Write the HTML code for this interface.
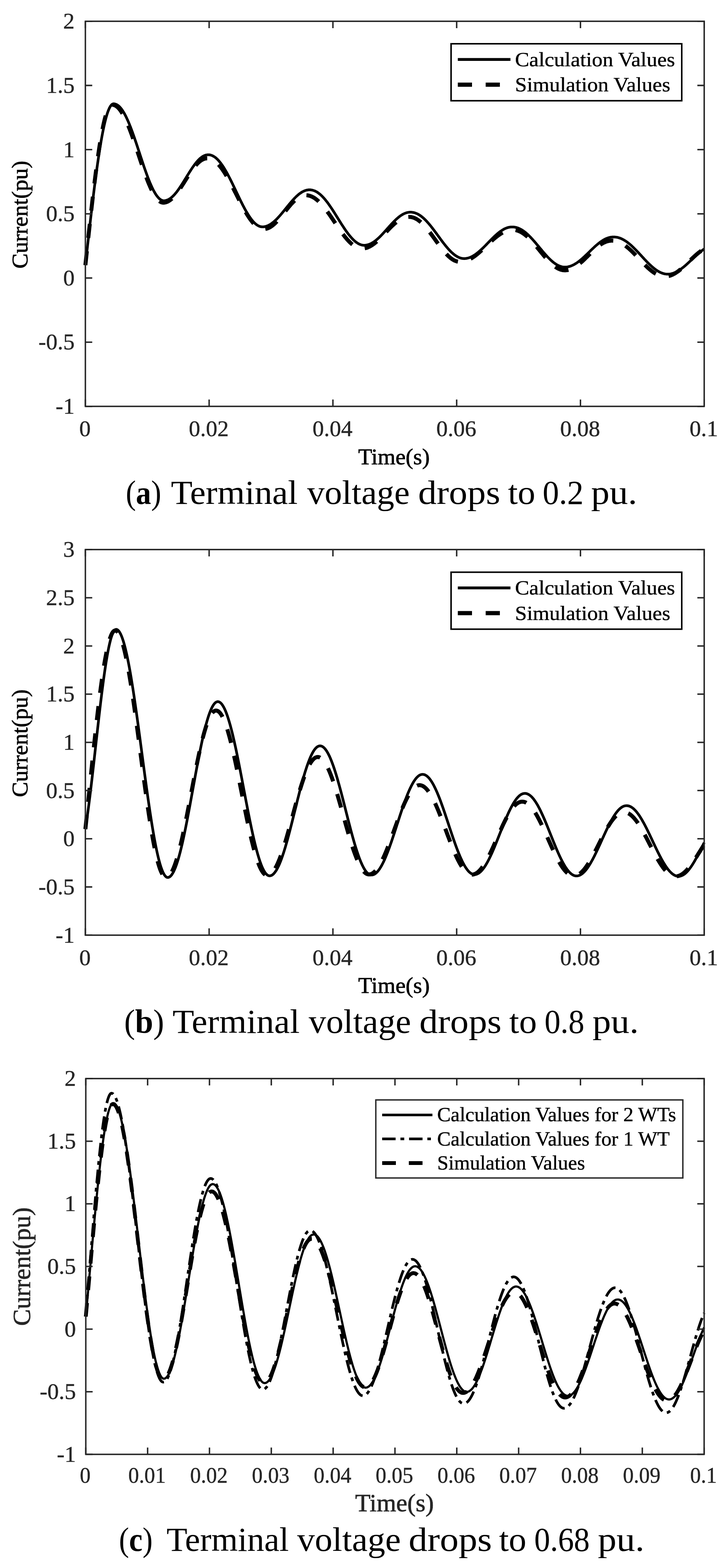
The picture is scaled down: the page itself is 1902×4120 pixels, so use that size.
<!DOCTYPE html>
<html><head><meta charset="utf-8"><title>Figure</title><style>
html,body{margin:0;padding:0;background:#fff}
svg{display:block}
text{font-family:"Liberation Serif","Times New Roman",serif}
.tk{font-size:60px;fill:#262626;stroke:#262626;stroke-width:0.6px}
.lb{font-size:60px;fill:#000;stroke:#000;stroke-width:1px}
.lc{font-size:66px;fill:#262626;stroke:#262626}
.lg{font-size:56px;fill:#000;stroke:#000;stroke-width:0.6px}
.lgc{font-size:53.3px}
.cap{font-size:88px;fill:#000}
</style></head>
<body><svg width="1902" height="4120" viewBox="0 0 1902 4120">
<g fill="none" stroke="#000" stroke-linejoin="round">
<path d="M224.3 696.7L225.8 683.2L227.3 669.7L228.8 656.3L230.3 642.9L231.8 629.5L233.3 616.2L234.8 603.0L236.3 589.9L237.8 576.9L239.3 564.0L240.8 551.2L242.3 538.6L243.8 526.2L245.3 513.9L246.8 501.8L248.3 489.9L249.8 478.2L251.3 466.8L252.8 455.5L254.3 444.5L255.8 433.8L257.3 423.4L258.8 413.2L260.3 403.3L261.8 393.7L263.3 384.4L264.8 375.4L266.3 366.8L267.8 358.5L269.3 350.5L270.8 342.9L272.3 335.6L273.8 328.7L275.3 322.2L276.8 316.1L278.3 310.3L279.8 305.0L281.3 300.0L282.8 295.4L284.3 291.3L285.8 287.6L287.3 284.2L288.8 281.3L290.3 278.8L291.8 276.8L293.3 275.1L294.8 273.9L296.3 273.1L297.8 272.8L299.3 272.8L300.8 273.0L302.3 273.2L303.8 273.7L305.3 274.3L306.8 275.0L308.3 275.9L309.8 276.9L311.3 278.0L312.8 279.4L314.3 280.8L315.8 282.4L317.3 284.2L318.8 286.1L320.3 288.1L321.8 290.3L323.3 292.6L324.8 295.0L326.3 297.6L327.8 300.3L329.3 303.2L330.8 306.1L332.3 309.2L333.8 312.4L335.3 315.7L336.8 319.1L338.3 322.6L339.8 326.3L341.3 330.0L342.8 333.8L344.3 337.7L345.8 341.7L347.3 345.8L348.8 349.9L350.3 354.1L351.8 358.4L353.3 362.7L354.8 367.1L356.3 371.5L357.8 375.9L359.3 380.4L360.8 384.9L362.3 389.5L363.8 394.0L365.3 398.6L366.8 403.2L368.3 407.8L369.8 412.3L371.3 416.9L372.8 421.4L374.3 425.9L375.8 430.4L377.3 434.9L378.8 439.3L380.3 443.6L381.8 447.9L383.3 452.2L384.8 456.3L386.3 460.4L387.8 464.5L389.3 468.4L390.8 472.2L392.3 476.0L393.8 479.7L395.3 483.2L396.8 486.7L398.3 490.0L399.8 493.2L401.3 496.3L402.8 499.3L404.3 502.1L405.8 504.8L407.3 507.4L408.8 509.8L410.3 512.1L411.8 514.3L413.3 516.2L414.8 518.1L416.3 519.7L417.8 521.3L419.3 522.6L420.8 523.8L422.3 524.8L423.8 525.7L425.3 526.4L426.8 526.9L428.3 527.2L429.8 527.4L431.3 527.4L432.8 527.3L434.3 527.1L435.8 526.8L437.3 526.4L438.8 525.9L440.3 525.4L441.8 524.7L443.3 523.9L444.8 523.0L446.3 522.1L447.8 521.0L449.3 519.9L450.8 518.6L452.3 517.3L453.8 515.9L455.3 514.5L456.8 512.9L458.3 511.3L459.8 509.6L461.3 507.8L462.8 506.0L464.3 504.1L465.8 502.1L467.3 500.1L468.8 498.0L470.3 495.9L471.8 493.7L473.3 491.5L474.8 489.2L476.3 486.9L477.8 484.6L479.3 482.3L480.8 479.9L482.3 477.5L483.8 475.1L485.3 472.6L486.8 470.2L488.3 467.7L489.8 465.3L491.3 462.8L492.8 460.4L494.3 458.0L495.8 455.6L497.3 453.2L498.8 450.8L500.3 448.5L501.8 446.1L503.3 443.9L504.8 441.6L506.3 439.4L507.8 437.3L509.3 435.2L510.8 433.1L512.3 431.1L513.8 429.2L515.3 427.3L516.8 425.5L518.3 423.8L519.8 422.1L521.3 420.5L522.8 419.0L524.3 417.5L525.8 416.2L527.3 414.9L528.8 413.7L530.3 412.6L531.8 411.6L533.3 410.7L534.8 409.8L536.3 409.1L537.8 408.5L539.3 407.9L540.8 407.5L542.3 407.1L543.8 406.9L545.3 406.7L546.8 406.7L548.3 406.7L549.8 406.8L551.3 407.0L552.8 407.3L554.3 407.7L555.8 408.2L557.3 408.8L558.8 409.5L560.3 410.3L561.8 411.1L563.3 412.1L564.8 413.1L566.3 414.3L567.8 415.5L569.3 416.9L570.8 418.3L572.3 419.8L573.8 421.4L575.3 423.1L576.8 424.9L578.3 426.7L579.8 428.6L581.3 430.7L582.8 432.8L584.3 434.9L585.8 437.2L587.3 439.5L588.8 441.9L590.3 444.3L591.8 446.8L593.3 449.4L594.8 452.0L596.3 454.7L597.8 457.5L599.3 460.3L600.8 463.1L602.3 466.0L603.8 468.9L605.3 471.9L606.8 474.9L608.3 477.9L609.8 481.0L611.3 484.1L612.8 487.2L614.3 490.3L615.8 493.4L617.3 496.6L618.8 499.7L620.3 502.9L621.8 506.0L623.3 509.2L624.8 512.3L626.3 515.5L627.8 518.6L629.3 521.7L630.8 524.8L632.3 527.9L633.8 530.9L635.3 533.9L636.8 536.9L638.3 539.8L639.8 542.7L641.3 545.5L642.8 548.3L644.3 551.1L645.8 553.7L647.3 556.4L648.8 558.9L650.3 561.4L651.8 563.9L653.3 566.2L654.8 568.5L656.3 570.7L657.8 572.9L659.3 574.9L660.8 576.9L662.3 578.8L663.8 580.6L665.3 582.3L666.8 583.9L668.3 585.4L669.8 586.9L671.3 588.2L672.8 589.4L674.3 590.6L675.8 591.6L677.3 592.5L678.8 593.3L680.3 594.0L681.8 594.7L683.3 595.2L684.8 595.5L686.3 595.8L687.8 596.0L689.3 596.1L690.8 596.0L692.3 595.9L693.8 595.8L695.3 595.5L696.8 595.2L698.3 594.8L699.8 594.4L701.3 593.9L702.8 593.3L704.3 592.6L705.8 591.9L707.3 591.1L708.8 590.3L710.3 589.4L711.8 588.4L713.3 587.4L714.8 586.3L716.3 585.1L717.8 583.9L719.3 582.7L720.8 581.4L722.3 580.0L723.8 578.6L725.3 577.2L726.8 575.7L728.3 574.2L729.8 572.6L731.3 571.0L732.8 569.3L734.3 567.7L735.8 566.0L737.3 564.2L738.8 562.5L740.3 560.7L741.8 558.9L743.3 557.1L744.8 555.3L746.3 553.4L747.8 551.6L749.3 549.7L750.8 547.9L752.3 546.0L753.8 544.2L755.3 542.3L756.8 540.5L758.3 538.7L759.8 536.8L761.3 535.0L762.8 533.3L764.3 531.5L765.8 529.7L767.3 528.0L768.8 526.3L770.3 524.7L771.8 523.1L773.3 521.5L774.8 519.9L776.3 518.4L777.8 516.9L779.3 515.5L780.8 514.1L782.3 512.8L783.8 511.5L785.3 510.3L786.8 509.1L788.3 508.0L789.8 507.0L791.3 506.0L792.8 505.0L794.3 504.1L795.8 503.3L797.3 502.6L798.8 501.9L800.3 501.3L801.8 500.7L803.3 500.2L804.8 499.8L806.3 499.5L807.8 499.2L809.3 499.0L810.8 498.8L812.3 498.8L813.8 498.8L815.3 498.8L816.8 499.0L818.3 499.2L819.8 499.4L821.3 499.8L822.8 500.2L824.3 500.7L825.8 501.2L827.3 501.8L828.8 502.5L830.3 503.3L831.8 504.1L833.3 505.0L834.8 506.0L836.3 507.1L837.8 508.2L839.3 509.4L840.8 510.6L842.3 511.9L843.8 513.3L845.3 514.7L846.8 516.2L848.3 517.8L849.8 519.4L851.3 521.1L852.8 522.8L854.3 524.6L855.8 526.4L857.3 528.3L858.8 530.2L860.3 532.2L861.8 534.2L863.3 536.3L864.8 538.4L866.3 540.6L867.8 542.7L869.3 544.9L870.8 547.2L872.3 549.4L873.8 551.7L875.3 554.0L876.8 556.4L878.3 558.7L879.8 561.1L881.3 563.5L882.8 565.9L884.3 568.3L885.8 570.7L887.3 573.1L888.8 575.5L890.3 577.9L891.8 580.3L893.3 582.7L894.8 585.1L896.3 587.5L897.8 589.8L899.3 592.1L900.8 594.4L902.3 596.7L903.8 599.0L905.3 601.2L906.8 603.4L908.3 605.6L909.8 607.7L911.3 609.8L912.8 611.9L914.3 613.9L915.8 615.8L917.3 617.7L918.8 619.6L920.3 621.4L921.8 623.1L923.3 624.8L924.8 626.5L926.3 628.0L927.8 629.6L929.3 631.0L930.8 632.4L932.3 633.7L933.8 634.9L935.3 636.1L936.8 637.2L938.3 638.2L939.8 639.2L941.3 640.1L942.8 640.9L944.3 641.6L945.8 642.2L947.3 642.8L948.8 643.3L950.3 643.7L951.8 644.0L953.3 644.2L954.8 644.4L956.3 644.5L957.8 644.4L959.3 644.4L960.8 644.2L962.3 644.0L963.8 643.8L965.3 643.4L966.8 643.0L968.3 642.6L969.8 642.0L971.3 641.4L972.8 640.8L974.3 640.1L975.8 639.3L977.3 638.5L978.8 637.6L980.3 636.7L981.8 635.7L983.3 634.6L984.8 633.6L986.3 632.4L987.8 631.2L989.3 630.0L990.8 628.7L992.3 627.4L993.8 626.0L995.3 624.6L996.8 623.2L998.3 621.7L999.8 620.2L1001.3 618.7L1002.8 617.1L1004.3 615.6L1005.8 613.9L1007.3 612.3L1008.8 610.7L1010.3 609.0L1011.8 607.4L1013.3 605.7L1014.8 604.0L1016.3 602.3L1017.8 600.6L1019.3 599.0L1020.8 597.3L1022.3 595.6L1023.8 593.9L1025.3 592.3L1026.8 590.6L1028.3 589.0L1029.8 587.4L1031.3 585.8L1032.8 584.2L1034.3 582.7L1035.8 581.1L1037.3 579.7L1038.8 578.2L1040.3 576.8L1041.8 575.4L1043.3 574.1L1044.8 572.7L1046.3 571.5L1047.8 570.3L1049.3 569.1L1050.8 568.0L1052.3 566.9L1053.8 565.9L1055.3 564.9L1056.8 564.0L1058.3 563.1L1059.8 562.3L1061.3 561.6L1062.8 560.9L1064.3 560.3L1065.8 559.7L1067.3 559.2L1068.8 558.8L1070.3 558.4L1071.8 558.1L1073.3 557.9L1074.8 557.7L1076.3 557.6L1077.8 557.5L1079.3 557.6L1080.8 557.6L1082.3 557.8L1083.8 557.9L1085.3 558.2L1086.8 558.5L1088.3 558.9L1089.8 559.3L1091.3 559.8L1092.8 560.4L1094.3 561.0L1095.8 561.7L1097.3 562.4L1098.8 563.2L1100.3 564.1L1101.8 565.0L1103.3 566.0L1104.8 567.0L1106.3 568.1L1107.8 569.3L1109.3 570.5L1110.8 571.7L1112.3 573.0L1113.8 574.4L1115.3 575.8L1116.8 577.3L1118.3 578.8L1119.8 580.3L1121.3 581.9L1122.8 583.6L1124.3 585.3L1125.8 587.0L1127.3 588.7L1128.8 590.5L1130.3 592.3L1131.8 594.2L1133.3 596.1L1134.8 598.0L1136.3 599.9L1137.8 601.9L1139.3 603.8L1140.8 605.8L1142.3 607.8L1143.8 609.9L1145.3 611.9L1146.8 613.9L1148.3 616.0L1149.8 618.0L1151.3 620.1L1152.8 622.1L1154.3 624.2L1155.8 626.2L1157.3 628.3L1158.8 630.3L1160.3 632.3L1161.8 634.3L1163.3 636.3L1164.8 638.3L1166.3 640.2L1167.8 642.1L1169.3 644.0L1170.8 645.9L1172.3 647.7L1173.8 649.5L1175.3 651.3L1176.8 653.0L1178.3 654.7L1179.8 656.3L1181.3 657.9L1182.8 659.5L1184.3 661.0L1185.8 662.5L1187.3 663.9L1188.8 665.2L1190.3 666.5L1191.8 667.8L1193.3 669.0L1194.8 670.1L1196.3 671.2L1197.8 672.2L1199.3 673.1L1200.8 674.0L1202.3 674.9L1203.8 675.6L1205.3 676.3L1206.8 676.9L1208.3 677.5L1209.8 678.0L1211.3 678.4L1212.8 678.7L1214.3 679.0L1215.8 679.2L1217.3 679.3L1218.8 679.4L1220.3 679.4L1221.8 679.3L1223.3 679.2L1224.8 679.0L1226.3 678.7L1227.8 678.4L1229.3 678.1L1230.8 677.7L1232.3 677.2L1233.8 676.7L1235.3 676.1L1236.8 675.5L1238.3 674.8L1239.8 674.0L1241.3 673.3L1242.8 672.4L1244.3 671.5L1245.8 670.6L1247.3 669.6L1248.8 668.6L1250.3 667.6L1251.8 666.4L1253.3 665.3L1254.8 664.1L1256.3 662.9L1257.8 661.6L1259.3 660.4L1260.8 659.0L1262.3 657.7L1263.8 656.3L1265.3 654.9L1266.8 653.5L1268.3 652.0L1269.8 650.6L1271.3 649.1L1272.8 647.6L1274.3 646.1L1275.8 644.6L1277.3 643.0L1278.8 641.5L1280.3 639.9L1281.8 638.4L1283.3 636.8L1284.8 635.3L1286.3 633.7L1287.8 632.2L1289.3 630.7L1290.8 629.2L1292.3 627.6L1293.8 626.1L1295.3 624.7L1296.8 623.2L1298.3 621.8L1299.8 620.4L1301.3 619.0L1302.8 617.6L1304.3 616.3L1305.8 614.9L1307.3 613.7L1308.8 612.4L1310.3 611.2L1311.8 610.0L1313.3 608.9L1314.8 607.8L1316.3 606.8L1317.8 605.8L1319.3 604.8L1320.8 603.9L1322.3 603.0L1323.8 602.2L1325.3 601.4L1326.8 600.7L1328.3 600.1L1329.8 599.4L1331.3 598.9L1332.8 598.4L1334.3 597.9L1335.8 597.5L1337.3 597.2L1338.8 596.9L1340.3 596.7L1341.8 596.5L1343.3 596.4L1344.8 596.4L1346.3 596.4L1347.8 596.4L1349.3 596.5L1350.8 596.7L1352.3 596.9L1353.8 597.2L1355.3 597.5L1356.8 597.9L1358.3 598.3L1359.8 598.8L1361.3 599.3L1362.8 599.9L1364.3 600.6L1365.8 601.3L1367.3 602.1L1368.8 602.9L1370.3 603.8L1371.8 604.7L1373.3 605.7L1374.8 606.7L1376.3 607.7L1377.8 608.9L1379.3 610.0L1380.8 611.2L1382.3 612.5L1383.8 613.8L1385.3 615.1L1386.8 616.5L1388.3 617.9L1389.8 619.4L1391.3 620.9L1392.8 622.4L1394.3 624.0L1395.8 625.6L1397.3 627.2L1398.8 628.8L1400.3 630.5L1401.8 632.2L1403.3 633.9L1404.8 635.6L1406.3 637.4L1407.8 639.1L1409.3 640.9L1410.8 642.7L1412.3 644.5L1413.8 646.3L1415.3 648.1L1416.8 649.9L1418.3 651.7L1419.8 653.5L1421.3 655.3L1422.8 657.1L1424.3 658.9L1425.8 660.7L1427.3 662.4L1428.8 664.2L1430.3 665.9L1431.8 667.6L1433.3 669.3L1434.8 671.0L1436.3 672.6L1437.8 674.3L1439.3 675.9L1440.8 677.4L1442.3 678.9L1443.8 680.4L1445.3 681.9L1446.8 683.3L1448.3 684.7L1449.8 686.0L1451.3 687.3L1452.8 688.5L1454.3 689.7L1455.8 690.8L1457.3 691.9L1458.8 693.0L1460.3 694.0L1461.8 694.9L1463.3 695.8L1464.8 696.6L1466.3 697.4L1467.8 698.1L1469.3 698.7L1470.8 699.3L1472.3 699.9L1473.8 700.3L1475.3 700.7L1476.8 701.1L1478.3 701.4L1479.8 701.6L1481.3 701.7L1482.8 701.8L1484.3 701.8L1485.8 701.8L1487.3 701.7L1488.8 701.6L1490.3 701.4L1491.8 701.1L1493.3 700.8L1494.8 700.5L1496.3 700.0L1497.8 699.6L1499.3 699.1L1500.8 698.5L1502.3 697.9L1503.8 697.2L1505.3 696.5L1506.8 695.8L1508.3 695.0L1509.8 694.1L1511.3 693.2L1512.8 692.3L1514.3 691.3L1515.8 690.3L1517.3 689.3L1518.8 688.2L1520.3 687.1L1521.8 685.9L1523.3 684.7L1524.8 683.5L1526.3 682.2L1527.8 681.0L1529.3 679.7L1530.8 678.3L1532.3 677.0L1533.8 675.6L1535.3 674.2L1536.8 672.8L1538.3 671.4L1539.8 670.0L1541.3 668.5L1542.8 667.1L1544.3 665.6L1545.8 664.2L1547.3 662.7L1548.8 661.3L1550.3 659.8L1551.8 658.3L1553.3 656.9L1554.8 655.4L1556.3 654.0L1557.8 652.6L1559.3 651.2L1560.8 649.8L1562.3 648.4L1563.8 647.0L1565.3 645.7L1566.8 644.4L1568.3 643.1L1569.8 641.8L1571.3 640.6L1572.8 639.4L1574.3 638.2L1575.8 637.0L1577.3 635.9L1578.8 634.9L1580.3 633.8L1581.8 632.8L1583.3 631.9L1584.8 630.9L1586.3 630.1L1587.8 629.2L1589.3 628.5L1590.8 627.7L1592.3 627.0L1593.8 626.4L1595.3 625.8L1596.8 625.2L1598.3 624.8L1599.8 624.3L1601.3 623.9L1602.8 623.6L1604.3 623.3L1605.8 623.1L1607.3 622.9L1608.8 622.8L1610.3 622.7L1611.8 622.7L1613.3 622.7L1614.8 622.8L1616.3 622.9L1617.8 623.1L1619.3 623.3L1620.8 623.5L1622.3 623.8L1623.8 624.2L1625.3 624.6L1626.8 625.1L1628.3 625.6L1629.8 626.1L1631.3 626.7L1632.8 627.4L1634.3 628.1L1635.8 628.8L1637.3 629.6L1638.8 630.5L1640.3 631.3L1641.8 632.3L1643.3 633.2L1644.8 634.2L1646.3 635.3L1647.8 636.4L1649.3 637.5L1650.8 638.7L1652.3 639.9L1653.8 641.1L1655.3 642.4L1656.8 643.7L1658.3 645.0L1659.8 646.4L1661.3 647.8L1662.8 649.2L1664.3 650.6L1665.8 652.1L1667.3 653.6L1668.8 655.1L1670.3 656.6L1671.8 658.2L1673.3 659.8L1674.8 661.3L1676.3 662.9L1677.8 664.5L1679.3 666.1L1680.8 667.8L1682.3 669.4L1683.8 671.0L1685.3 672.6L1686.8 674.3L1688.3 675.9L1689.8 677.5L1691.3 679.1L1692.8 680.8L1694.3 682.4L1695.8 683.9L1697.3 685.5L1698.8 687.1L1700.3 688.6L1701.8 690.2L1703.3 691.7L1704.8 693.1L1706.3 694.6L1707.8 696.0L1709.3 697.4L1710.8 698.8L1712.3 700.2L1713.8 701.5L1715.3 702.8L1716.8 704.0L1718.3 705.2L1719.8 706.4L1721.3 707.5L1722.8 708.6L1724.3 709.7L1725.8 710.7L1727.3 711.7L1728.8 712.6L1730.3 713.4L1731.8 714.3L1733.3 715.0L1734.8 715.8L1736.3 716.4L1737.8 717.1L1739.3 717.6L1740.8 718.2L1742.3 718.6L1743.8 719.0L1745.3 719.4L1746.8 719.7L1748.3 719.9L1749.8 720.1L1751.3 720.3L1752.8 720.3L1754.3 720.3L1755.8 720.3L1757.3 720.2L1758.8 720.1L1760.3 719.9L1761.8 719.6L1763.3 719.4L1764.8 719.0L1766.3 718.6L1767.8 718.2L1769.3 717.7L1770.8 717.1L1772.3 716.5L1773.8 715.9L1775.3 715.2L1776.8 714.4L1778.3 713.6L1779.8 712.8L1781.3 711.9L1782.8 711.0L1784.3 710.1L1785.8 709.1L1787.3 708.1L1788.8 707.0L1790.3 705.9L1791.8 704.8L1793.3 703.6L1794.8 702.4L1796.3 701.2L1797.8 699.9L1799.3 698.7L1800.8 697.4L1802.3 696.1L1803.8 694.7L1805.3 693.4L1806.8 692.0L1808.3 690.6L1809.8 689.2L1811.3 687.8L1812.8 686.4L1814.3 685.0L1815.8 683.5L1817.3 682.1L1818.8 680.7L1820.3 679.3L1821.8 677.8L1823.3 676.4L1824.8 675.0L1826.3 673.6L1827.8 672.2L1829.3 670.9L1830.8 669.5L1832.3 668.2L1833.8 666.8L1835.3 665.5L1836.8 664.3L1838.3 663.0L1839.8 661.8L1841.3 660.6L1842.8 659.4L1844.3 658.3L1845.8 657.2L1847.3 656.1L1848.8 655.0L1850.0 654.2" stroke-width="7"/>
<path d="M224.3 696.7L225.8 682.5L227.3 668.3L228.8 654.2L230.3 640.1L231.8 626.0L233.3 612.1L234.8 598.2L236.3 584.4L237.8 570.8L239.3 557.3L240.8 544.0L242.3 530.8L243.8 517.9L245.3 505.1L246.8 492.5L248.3 480.2L249.8 468.2L251.3 456.4L252.8 444.8L254.3 433.6L255.8 422.6L257.3 412.0L258.8 401.7L260.3 391.7L261.8 382.1L263.3 372.8L264.8 363.9L266.3 355.3L267.8 347.2L269.3 339.4L270.8 332.1L272.3 325.2L273.8 318.7L275.3 312.6L276.8 307.0L278.3 301.8L279.8 297.0L281.3 292.7L282.8 288.9L284.3 285.5L285.8 282.6L287.3 280.2L288.8 278.2L290.3 276.8L291.8 275.7L293.3 275.2L294.8 275.1L296.3 275.3L297.8 275.5L299.3 275.9L300.8 276.4L302.3 277.1L303.8 277.9L305.3 278.8L306.8 279.9L308.3 281.1L309.8 282.5L311.3 284.0L312.8 285.7L314.3 287.5L315.8 289.4L317.3 291.5L318.8 293.7L320.3 296.1L321.8 298.5L323.3 301.1L324.8 303.9L326.3 306.7L327.8 309.7L329.3 312.8L330.8 316.0L332.3 319.3L333.8 322.7L335.3 326.2L336.8 329.8L338.3 333.5L339.8 337.3L341.3 341.2L342.8 345.1L344.3 349.2L345.8 353.3L347.3 357.4L348.8 361.7L350.3 365.9L351.8 370.3L353.3 374.7L354.8 379.1L356.3 383.5L357.8 388.0L359.3 392.5L360.8 397.0L362.3 401.5L363.8 406.1L365.3 410.6L366.8 415.1L368.3 419.7L369.8 424.2L371.3 428.6L372.8 433.1L374.3 437.5L375.8 441.9L377.3 446.2L378.8 450.5L380.3 454.7L381.8 458.9L383.3 463.0L384.8 467.0L386.3 471.0L387.8 474.8L389.3 478.6L390.8 482.3L392.3 485.8L393.8 489.3L395.3 492.7L396.8 496.0L398.3 499.1L399.8 502.1L401.3 505.0L402.8 507.8L404.3 510.4L405.8 513.0L407.3 515.3L408.8 517.5L410.3 519.6L411.8 521.6L413.3 523.3L414.8 525.0L416.3 526.4L417.8 527.8L419.3 528.9L420.8 529.9L422.3 530.8L423.8 531.4L425.3 531.9L426.8 532.3L428.3 532.5L429.8 532.5L431.3 532.4L432.8 532.2L434.3 531.9L435.8 531.5L437.3 531.0L438.8 530.5L440.3 529.8L441.8 529.0L443.3 528.2L444.8 527.2L446.3 526.2L447.8 525.1L449.3 523.9L450.8 522.6L452.3 521.2L453.8 519.8L455.3 518.3L456.8 516.7L458.3 515.0L459.8 513.3L461.3 511.5L462.8 509.6L464.3 507.7L465.8 505.7L467.3 503.7L468.8 501.6L470.3 499.5L471.8 497.3L473.3 495.1L474.8 492.8L476.3 490.6L477.8 488.3L479.3 486.0L480.8 483.6L482.3 481.3L483.8 478.9L485.3 476.5L486.8 474.1L488.3 471.7L489.8 469.4L491.3 467.0L492.8 464.6L494.3 462.3L495.8 460.0L497.3 457.7L498.8 455.4L500.3 453.2L501.8 451.0L503.3 448.8L504.8 446.7L506.3 444.6L507.8 442.6L509.3 440.6L510.8 438.7L512.3 436.9L513.8 435.1L515.3 433.3L516.8 431.7L518.3 430.1L519.8 428.6L521.3 427.2L522.8 425.8L524.3 424.5L525.8 423.3L527.3 422.2L528.8 421.2L530.3 420.3L531.8 419.4L533.3 418.7L534.8 418.0L536.3 417.5L537.8 417.0L539.3 416.6L540.8 416.4L542.3 416.2L543.8 416.1L545.3 416.1L546.8 416.2L548.3 416.4L549.8 416.6L551.3 417.0L552.8 417.4L554.3 417.9L555.8 418.5L557.3 419.2L558.8 419.9L560.3 420.8L561.8 421.7L563.3 422.7L564.8 423.8L566.3 425.0L567.8 426.3L569.3 427.6L570.8 429.1L572.3 430.6L573.8 432.1L575.3 433.8L576.8 435.6L578.3 437.4L579.8 439.3L581.3 441.2L582.8 443.2L584.3 445.3L585.8 447.5L587.3 449.7L588.8 452.0L590.3 454.3L591.8 456.7L593.3 459.2L594.8 461.7L596.3 464.3L597.8 466.9L599.3 469.5L600.8 472.2L602.3 474.9L603.8 477.7L605.3 480.5L606.8 483.3L608.3 486.2L609.8 489.1L611.3 492.0L612.8 494.9L614.3 497.8L615.8 500.8L617.3 503.8L618.8 506.7L620.3 509.7L621.8 512.7L623.3 515.7L624.8 518.6L626.3 521.6L627.8 524.5L629.3 527.5L630.8 530.4L632.3 533.3L633.8 536.2L635.3 539.0L636.8 541.8L638.3 544.6L639.8 547.4L641.3 550.1L642.8 552.8L644.3 555.4L645.8 558.0L647.3 560.5L648.8 563.0L650.3 565.4L651.8 567.8L653.3 570.1L654.8 572.3L656.3 574.5L657.8 576.6L659.3 578.6L660.8 580.6L662.3 582.5L663.8 584.3L665.3 586.0L666.8 587.7L668.3 589.2L669.8 590.7L671.3 592.1L672.8 593.4L674.3 594.6L675.8 595.8L677.3 596.8L678.8 597.8L680.3 598.6L681.8 599.4L683.3 600.0L684.8 600.6L686.3 601.1L687.8 601.4L689.3 601.7L690.8 601.9L692.3 602.0L693.8 601.9L695.3 601.8L696.8 601.7L698.3 601.4L699.8 601.0L701.3 600.6L702.8 600.1L704.3 599.5L705.8 598.9L707.3 598.1L708.8 597.3L710.3 596.4L711.8 595.5L713.3 594.5L714.8 593.4L716.3 592.2L717.8 591.0L719.3 589.7L720.8 588.4L722.3 587.0L723.8 585.5L725.3 584.0L726.8 582.4L728.3 580.8L729.8 579.2L731.3 577.5L732.8 575.8L734.3 574.1L735.8 572.3L737.3 570.5L738.8 568.6L740.3 566.8L741.8 564.9L743.3 563.0L744.8 561.1L746.3 559.2L747.8 557.3L749.3 555.4L750.8 553.5L752.3 551.6L753.8 549.7L755.3 547.9L756.8 546.0L758.3 544.2L759.8 542.4L761.3 540.6L762.8 538.8L764.3 537.1L765.8 535.4L767.3 533.8L768.8 532.2L770.3 530.7L771.8 529.2L773.3 527.7L774.8 526.3L776.3 525.0L777.8 523.7L779.3 522.5L780.8 521.4L782.3 520.3L783.8 519.3L785.3 518.3L786.8 517.4L788.3 516.6L789.8 515.9L791.3 515.3L792.8 514.7L794.3 514.2L795.8 513.8L797.3 513.5L798.8 513.2L800.3 513.0L801.8 512.9L803.3 512.9L804.8 513.0L806.3 513.1L807.8 513.2L809.3 513.5L810.8 513.8L812.3 514.1L813.8 514.6L815.3 515.0L816.8 515.6L818.3 516.2L819.8 516.9L821.3 517.6L822.8 518.4L824.3 519.3L825.8 520.2L827.3 521.2L828.8 522.3L830.3 523.4L831.8 524.6L833.3 525.8L834.8 527.1L836.3 528.4L837.8 529.9L839.3 531.3L840.8 532.8L842.3 534.4L843.8 536.0L845.3 537.6L846.8 539.3L848.3 541.1L849.8 542.9L851.3 544.7L852.8 546.6L854.3 548.5L855.8 550.4L857.3 552.4L858.8 554.4L860.3 556.5L861.8 558.6L863.3 560.7L864.8 562.8L866.3 564.9L867.8 567.1L869.3 569.3L870.8 571.5L872.3 573.7L873.8 575.9L875.3 578.1L876.8 580.4L878.3 582.6L879.8 584.8L881.3 587.1L882.8 589.3L884.3 591.6L885.8 593.8L887.3 596.0L888.8 598.2L890.3 600.4L891.8 602.6L893.3 604.7L894.8 606.9L896.3 609.0L897.8 611.0L899.3 613.1L900.8 615.1L902.3 617.1L903.8 619.1L905.3 621.0L906.8 622.9L908.3 624.7L909.8 626.5L911.3 628.3L912.8 630.0L914.3 631.6L915.8 633.2L917.3 634.8L918.8 636.3L920.3 637.7L921.8 639.1L923.3 640.4L924.8 641.7L926.3 642.9L927.8 644.1L929.3 645.1L930.8 646.1L932.3 647.1L933.8 648.0L935.3 648.8L936.8 649.5L938.3 650.2L939.8 650.8L941.3 651.3L942.8 651.8L944.3 652.2L945.8 652.5L947.3 652.7L948.8 652.9L950.3 653.0L951.8 653.0L953.3 652.9L954.8 652.8L956.3 652.7L957.8 652.4L959.3 652.1L960.8 651.8L962.3 651.4L963.8 650.9L965.3 650.4L966.8 649.8L968.3 649.1L969.8 648.4L971.3 647.7L972.8 646.9L974.3 646.0L975.8 645.1L977.3 644.2L978.8 643.2L980.3 642.1L981.8 641.0L983.3 639.9L984.8 638.7L986.3 637.5L987.8 636.2L989.3 634.9L990.8 633.6L992.3 632.2L993.8 630.8L995.3 629.4L996.8 627.9L998.3 626.5L999.8 625.0L1001.3 623.5L1002.8 621.9L1004.3 620.4L1005.8 618.8L1007.3 617.2L1008.8 615.7L1010.3 614.1L1011.8 612.5L1013.3 610.9L1014.8 609.3L1016.3 607.7L1017.8 606.1L1019.3 604.5L1020.8 603.0L1022.3 601.4L1023.8 599.9L1025.3 598.4L1026.8 596.9L1028.3 595.4L1029.8 593.9L1031.3 592.5L1032.8 591.1L1034.3 589.7L1035.8 588.4L1037.3 587.1L1038.8 585.8L1040.3 584.6L1041.8 583.4L1043.3 582.2L1044.8 581.1L1046.3 580.1L1047.8 579.0L1049.3 578.1L1050.8 577.1L1052.3 576.3L1053.8 575.4L1055.3 574.7L1056.8 574.0L1058.3 573.3L1059.8 572.7L1061.3 572.2L1062.8 571.7L1064.3 571.2L1065.8 570.9L1067.3 570.6L1068.8 570.3L1070.3 570.1L1071.8 570.0L1073.3 569.9L1074.8 569.9L1076.3 570.0L1077.8 570.1L1079.3 570.3L1080.8 570.5L1082.3 570.8L1083.8 571.2L1085.3 571.6L1086.8 572.1L1088.3 572.7L1089.8 573.3L1091.3 574.0L1092.8 574.8L1094.3 575.6L1095.8 576.5L1097.3 577.5L1098.8 578.5L1100.3 579.6L1101.8 580.8L1103.3 582.0L1104.8 583.2L1106.3 584.5L1107.8 585.9L1109.3 587.3L1110.8 588.8L1112.3 590.4L1113.8 591.9L1115.3 593.6L1116.8 595.2L1118.3 597.0L1119.8 598.7L1121.3 600.5L1122.8 602.3L1124.3 604.2L1125.8 606.1L1127.3 608.0L1128.8 610.0L1130.3 612.0L1131.8 614.0L1133.3 616.0L1134.8 618.0L1136.3 620.1L1137.8 622.1L1139.3 624.2L1140.8 626.3L1142.3 628.4L1143.8 630.5L1145.3 632.6L1146.8 634.7L1148.3 636.8L1149.8 638.8L1151.3 640.9L1152.8 642.9L1154.3 645.0L1155.8 647.0L1157.3 649.0L1158.8 651.0L1160.3 652.9L1161.8 654.8L1163.3 656.7L1164.8 658.5L1166.3 660.3L1167.8 662.1L1169.3 663.8L1170.8 665.5L1172.3 667.2L1173.8 668.8L1175.3 670.3L1176.8 671.8L1178.3 673.2L1179.8 674.6L1181.3 675.9L1182.8 677.2L1184.3 678.4L1185.8 679.5L1187.3 680.6L1188.8 681.6L1190.3 682.5L1191.8 683.4L1193.3 684.2L1194.8 684.9L1196.3 685.5L1197.8 686.1L1199.3 686.6L1200.8 687.1L1202.3 687.4L1203.8 687.7L1205.3 687.9L1206.8 688.0L1208.3 688.1L1209.8 688.1L1211.3 688.0L1212.8 687.9L1214.3 687.7L1215.8 687.5L1217.3 687.2L1218.8 686.9L1220.3 686.6L1221.8 686.2L1223.3 685.7L1224.8 685.2L1226.3 684.7L1227.8 684.1L1229.3 683.5L1230.8 682.8L1232.3 682.1L1233.8 681.3L1235.3 680.5L1236.8 679.7L1238.3 678.8L1239.8 677.9L1241.3 676.9L1242.8 675.9L1244.3 674.9L1245.8 673.9L1247.3 672.8L1248.8 671.7L1250.3 670.5L1251.8 669.3L1253.3 668.1L1254.8 666.9L1256.3 665.6L1257.8 664.4L1259.3 663.1L1260.8 661.7L1262.3 660.4L1263.8 659.1L1265.3 657.7L1266.8 656.3L1268.3 654.9L1269.8 653.5L1271.3 652.1L1272.8 650.7L1274.3 649.2L1275.8 647.8L1277.3 646.4L1278.8 645.0L1280.3 643.5L1281.8 642.1L1283.3 640.7L1284.8 639.3L1286.3 637.8L1287.8 636.4L1289.3 635.1L1290.8 633.7L1292.3 632.3L1293.8 631.0L1295.3 629.6L1296.8 628.3L1298.3 627.0L1299.8 625.8L1301.3 624.5L1302.8 623.3L1304.3 622.1L1305.8 621.0L1307.3 619.8L1308.8 618.7L1310.3 617.7L1311.8 616.6L1313.3 615.6L1314.8 614.6L1316.3 613.7L1317.8 612.8L1319.3 611.9L1320.8 611.1L1322.3 610.3L1323.8 609.6L1325.3 608.9L1326.8 608.3L1328.3 607.7L1329.8 607.1L1331.3 606.6L1332.8 606.1L1334.3 605.7L1335.8 605.3L1337.3 605.0L1338.8 604.7L1340.3 604.4L1341.8 604.3L1343.3 604.1L1344.8 604.0L1346.3 604.0L1347.8 604.0L1349.3 604.1L1350.8 604.2L1352.3 604.3L1353.8 604.5L1355.3 604.8L1356.8 605.2L1358.3 605.6L1359.8 606.0L1361.3 606.5L1362.8 607.1L1364.3 607.7L1365.8 608.4L1367.3 609.1L1368.8 609.9L1370.3 610.7L1371.8 611.6L1373.3 612.6L1374.8 613.6L1376.3 614.6L1377.8 615.7L1379.3 616.9L1380.8 618.1L1382.3 619.3L1383.8 620.6L1385.3 621.9L1386.8 623.3L1388.3 624.7L1389.8 626.2L1391.3 627.7L1392.8 629.2L1394.3 630.8L1395.8 632.4L1397.3 634.0L1398.8 635.7L1400.3 637.4L1401.8 639.1L1403.3 640.8L1404.8 642.5L1406.3 644.3L1407.8 646.1L1409.3 647.9L1410.8 649.7L1412.3 651.5L1413.8 653.4L1415.3 655.2L1416.8 657.0L1418.3 658.9L1419.8 660.7L1421.3 662.6L1422.8 664.4L1424.3 666.2L1425.8 668.0L1427.3 669.8L1428.8 671.6L1430.3 673.4L1431.8 675.2L1433.3 676.9L1434.8 678.6L1436.3 680.3L1437.8 681.9L1439.3 683.6L1440.8 685.2L1442.3 686.7L1443.8 688.2L1445.3 689.7L1446.8 691.2L1448.3 692.6L1449.8 693.9L1451.3 695.3L1452.8 696.5L1454.3 697.8L1455.8 698.9L1457.3 700.1L1458.8 701.1L1460.3 702.2L1461.8 703.1L1463.3 704.0L1464.8 704.9L1466.3 705.7L1467.8 706.4L1469.3 707.1L1470.8 707.7L1472.3 708.2L1473.8 708.7L1475.3 709.1L1476.8 709.5L1478.3 709.7L1479.8 710.0L1481.3 710.1L1482.8 710.2L1484.3 710.2L1485.8 710.2L1487.3 710.1L1488.8 709.9L1490.3 709.7L1491.8 709.5L1493.3 709.1L1494.8 708.8L1496.3 708.3L1497.8 707.8L1499.3 707.3L1500.8 706.7L1502.3 706.1L1503.8 705.4L1505.3 704.6L1506.8 703.8L1508.3 703.0L1509.8 702.1L1511.3 701.2L1512.8 700.2L1514.3 699.2L1515.8 698.1L1517.3 697.0L1518.8 695.8L1520.3 694.7L1521.8 693.5L1523.3 692.2L1524.8 690.9L1526.3 689.6L1527.8 688.3L1529.3 687.0L1530.8 685.6L1532.3 684.2L1533.8 682.8L1535.3 681.3L1536.8 679.9L1538.3 678.4L1539.8 676.9L1541.3 675.5L1542.8 674.0L1544.3 672.5L1545.8 671.0L1547.3 669.5L1548.8 668.0L1550.3 666.5L1551.8 665.0L1553.3 663.6L1554.8 662.1L1556.3 660.7L1557.8 659.2L1559.3 657.8L1560.8 656.4L1562.3 655.1L1563.8 653.7L1565.3 652.4L1566.8 651.1L1568.3 649.8L1569.8 648.6L1571.3 647.4L1572.8 646.2L1574.3 645.1L1575.8 644.0L1577.3 643.0L1578.8 642.0L1580.3 641.0L1581.8 640.1L1583.3 639.2L1584.8 638.4L1586.3 637.6L1587.8 636.9L1589.3 636.2L1590.8 635.6L1592.3 635.0L1593.8 634.5L1595.3 634.0L1596.8 633.6L1598.3 633.3L1599.8 633.0L1601.3 632.7L1602.8 632.5L1604.3 632.4L1605.8 632.3L1607.3 632.3L1608.8 632.3L1610.3 632.4L1611.8 632.5L1613.3 632.7L1614.8 632.9L1616.3 633.2L1617.8 633.5L1619.3 633.9L1620.8 634.3L1622.3 634.7L1623.8 635.3L1625.3 635.8L1626.8 636.4L1628.3 637.1L1629.8 637.8L1631.3 638.5L1632.8 639.3L1634.3 640.1L1635.8 641.0L1637.3 641.9L1638.8 642.9L1640.3 643.9L1641.8 645.0L1643.3 646.1L1644.8 647.2L1646.3 648.4L1647.8 649.6L1649.3 650.8L1650.8 652.1L1652.3 653.4L1653.8 654.7L1655.3 656.0L1656.8 657.4L1658.3 658.8L1659.8 660.3L1661.3 661.7L1662.8 663.2L1664.3 664.7L1665.8 666.3L1667.3 667.8L1668.8 669.3L1670.3 670.9L1671.8 672.5L1673.3 674.1L1674.8 675.7L1676.3 677.2L1677.8 678.8L1679.3 680.4L1680.8 682.0L1682.3 683.6L1683.8 685.2L1685.3 686.8L1686.8 688.4L1688.3 690.0L1689.8 691.5L1691.3 693.1L1692.8 694.6L1694.3 696.1L1695.8 697.6L1697.3 699.1L1698.8 700.6L1700.3 702.0L1701.8 703.4L1703.3 704.8L1704.8 706.1L1706.3 707.4L1707.8 708.7L1709.3 709.9L1710.8 711.2L1712.3 712.3L1713.8 713.5L1715.3 714.6L1716.8 715.6L1718.3 716.6L1719.8 717.6L1721.3 718.5L1722.8 719.4L1724.3 720.2L1725.8 721.0L1727.3 721.7L1728.8 722.4L1730.3 723.1L1731.8 723.6L1733.3 724.2L1734.8 724.6L1736.3 725.0L1737.8 725.4L1739.3 725.7L1740.8 726.0L1742.3 726.2L1743.8 726.3L1745.3 726.4L1746.8 726.4L1748.3 726.4L1749.8 726.3L1751.3 726.2L1752.8 726.0L1754.3 725.7L1755.8 725.4L1757.3 725.1L1758.8 724.7L1760.3 724.2L1761.8 723.7L1763.3 723.2L1764.8 722.6L1766.3 721.9L1767.8 721.2L1769.3 720.4L1770.8 719.6L1772.3 718.8L1773.8 717.9L1775.3 717.0L1776.8 716.0L1778.3 715.0L1779.8 714.0L1781.3 712.9L1782.8 711.8L1784.3 710.6L1785.8 709.4L1787.3 708.2L1788.8 706.9L1790.3 705.7L1791.8 704.4L1793.3 703.0L1794.8 701.7L1796.3 700.3L1797.8 698.9L1799.3 697.5L1800.8 696.1L1802.3 694.7L1803.8 693.3L1805.3 691.8L1806.8 690.4L1808.3 688.9L1809.8 687.4L1811.3 686.0L1812.8 684.5L1814.3 683.0L1815.8 681.6L1817.3 680.2L1818.8 678.7L1820.3 677.3L1821.8 675.9L1823.3 674.5L1824.8 673.1L1826.3 671.8L1827.8 670.4L1829.3 669.1L1830.8 667.8L1832.3 666.6L1833.8 665.3L1835.3 664.1L1836.8 663.0L1838.3 661.8L1839.8 660.7L1841.3 659.6L1842.8 658.6L1844.3 657.6L1845.8 656.7L1847.3 655.8L1848.8 654.9L1850.0 654.2" stroke-width="10.5" stroke-dasharray="37 35" stroke-linecap="butt"/>
</g>
<rect x="224.3" y="55.9" width="1625.70" height="1011.85" fill="none" stroke="#262626" stroke-width="3.8"/>
<path d="M224.3 1067.8V1049.8M224.3 55.9V73.9M549.4 1067.8V1049.8M549.4 55.9V73.9M874.6 1067.8V1049.8M874.6 55.9V73.9M1199.7 1067.8V1049.8M1199.7 55.9V73.9M1524.9 1067.8V1049.8M1524.9 55.9V73.9M1850.0 1067.8V1049.8M1850.0 55.9V73.9M224.3 1067.8H242.3M1850.0 1067.8H1832.0M224.3 899.1H242.3M1850.0 899.1H1832.0M224.3 730.5H242.3M1850.0 730.5H1832.0M224.3 561.8H242.3M1850.0 561.8H1832.0M224.3 393.2H242.3M1850.0 393.2H1832.0M224.3 224.5H242.3M1850.0 224.5H1832.0M224.3 55.9H242.3M1850.0 55.9H1832.0" stroke="#262626" stroke-width="3.8" fill="none"/>
<text x="223.3" y="1146.2" text-anchor="middle" class="tk">0</text>
<text x="548.4" y="1146.2" text-anchor="middle" class="tk">0.02</text>
<text x="873.6" y="1146.2" text-anchor="middle" class="tk">0.04</text>
<text x="1198.7" y="1146.2" text-anchor="middle" class="tk">0.06</text>
<text x="1523.9" y="1146.2" text-anchor="middle" class="tk">0.08</text>
<text x="1849.0" y="1146.2" text-anchor="middle" class="tk">0.1</text>
<text x="196.0" y="1087.0" text-anchor="end" class="tk">-1</text>
<text x="196.0" y="918.4" text-anchor="end" class="tk">-0.5</text>
<text x="196.0" y="749.8" text-anchor="end" class="tk">0</text>
<text x="196.0" y="581.1" text-anchor="end" class="tk">0.5</text>
<text x="196.0" y="412.5" text-anchor="end" class="tk">1</text>
<text x="196.0" y="243.8" text-anchor="end" class="tk">1.5</text>
<text x="196.0" y="75.2" text-anchor="end" class="tk">2</text>
<g fill="none" stroke="#000" stroke-linejoin="round">
<path d="M224.3 2178.6L225.8 2168.9L227.3 2158.8L228.8 2148.4L230.3 2137.5L231.8 2126.4L233.3 2114.9L234.8 2103.1L236.3 2091.0L237.8 2078.7L239.3 2066.2L240.8 2053.5L242.3 2040.6L243.8 2027.5L245.3 2014.3L246.8 2001.0L248.3 1987.6L249.8 1974.2L251.3 1960.7L252.8 1947.2L254.3 1933.8L255.8 1920.4L257.3 1907.1L258.8 1893.9L260.3 1880.8L261.8 1867.9L263.3 1855.2L264.8 1842.6L266.3 1830.3L267.8 1818.2L269.3 1806.5L270.8 1795.0L272.3 1783.8L273.8 1773.0L275.3 1762.5L276.8 1752.4L278.3 1742.7L279.8 1733.4L281.3 1724.6L282.8 1716.2L284.3 1708.3L285.8 1700.9L287.3 1694.0L288.8 1687.6L290.3 1681.7L291.8 1676.3L293.3 1671.5L294.8 1667.3L296.3 1663.6L297.8 1660.5L299.3 1658.0L300.8 1656.0L302.3 1654.7L303.8 1653.9L305.3 1653.7L306.8 1654.0L308.3 1654.7L309.8 1655.7L311.3 1657.2L312.8 1659.0L314.3 1661.3L315.8 1663.9L317.3 1666.9L318.8 1670.2L320.3 1674.0L321.8 1678.1L323.3 1682.6L324.8 1687.4L326.3 1692.6L327.8 1698.1L329.3 1704.0L330.8 1710.2L332.3 1716.7L333.8 1723.6L335.3 1730.7L336.8 1738.2L338.3 1745.9L339.8 1753.9L341.3 1762.2L342.8 1770.8L344.3 1779.6L345.8 1788.7L347.3 1798.0L348.8 1807.5L350.3 1817.2L351.8 1827.1L353.3 1837.2L354.8 1847.4L356.3 1857.9L357.8 1868.4L359.3 1879.1L360.8 1890.0L362.3 1900.9L363.8 1911.9L365.3 1923.1L366.8 1934.2L368.3 1945.5L369.8 1956.7L371.3 1968.0L372.8 1979.4L374.3 1990.7L375.8 2002.0L377.3 2013.3L378.8 2024.5L380.3 2035.7L381.8 2046.8L383.3 2057.8L384.8 2068.8L386.3 2079.6L387.8 2090.3L389.3 2100.9L390.8 2111.3L392.3 2121.6L393.8 2131.7L395.3 2141.6L396.8 2151.4L398.3 2160.9L399.8 2170.2L401.3 2179.2L402.8 2188.1L404.3 2196.6L405.8 2205.0L407.3 2213.0L408.8 2220.8L410.3 2228.2L411.8 2235.4L413.3 2242.3L414.8 2248.8L416.3 2255.0L417.8 2260.9L419.3 2266.5L420.8 2271.7L422.3 2276.5L423.8 2281.0L425.3 2285.1L426.8 2288.9L428.3 2292.3L429.8 2295.3L431.3 2297.9L432.8 2300.2L434.3 2302.0L435.8 2303.5L437.3 2304.6L438.8 2305.3L440.3 2305.6L441.8 2305.5L443.3 2305.1L444.8 2304.5L446.3 2303.5L447.8 2302.3L449.3 2300.7L450.8 2298.9L452.3 2296.8L453.8 2294.3L455.3 2291.7L456.8 2288.7L458.3 2285.4L459.8 2281.9L461.3 2278.1L462.8 2274.1L464.3 2269.8L465.8 2265.2L467.3 2260.5L468.8 2255.4L470.3 2250.2L471.8 2244.7L473.3 2239.0L474.8 2233.0L476.3 2226.9L477.8 2220.6L479.3 2214.1L480.8 2207.4L482.3 2200.5L483.8 2193.5L485.3 2186.4L486.8 2179.0L488.3 2171.6L489.8 2164.0L491.3 2156.3L492.8 2148.5L494.3 2140.7L495.8 2132.7L497.3 2124.6L498.8 2116.5L500.3 2108.4L501.8 2100.2L503.3 2091.9L504.8 2083.7L506.3 2075.4L507.8 2067.1L509.3 2058.8L510.8 2050.6L512.3 2042.4L513.8 2034.2L515.3 2026.1L516.8 2018.0L518.3 2010.0L519.8 2002.1L521.3 1994.3L522.8 1986.6L524.3 1979.0L525.8 1971.5L527.3 1964.2L528.8 1957.0L530.3 1950.0L531.8 1943.1L533.3 1936.4L534.8 1929.8L536.3 1923.5L537.8 1917.3L539.3 1911.3L540.8 1905.6L542.3 1900.1L543.8 1894.8L545.3 1889.7L546.8 1884.8L548.3 1880.2L549.8 1875.9L551.3 1871.8L552.8 1868.0L554.3 1864.4L555.8 1861.1L557.3 1858.1L558.8 1855.3L560.3 1852.9L561.8 1850.7L563.3 1848.8L564.8 1847.2L566.3 1845.9L567.8 1844.9L569.3 1844.2L570.8 1843.7L572.3 1843.6L573.8 1843.8L575.3 1844.2L576.8 1844.9L578.3 1845.9L579.8 1847.1L581.3 1848.6L582.8 1850.4L584.3 1852.5L585.8 1854.8L587.3 1857.4L588.8 1860.2L590.3 1863.3L591.8 1866.6L593.3 1870.2L594.8 1874.1L596.3 1878.1L597.8 1882.4L599.3 1887.0L600.8 1891.7L602.3 1896.7L603.8 1901.9L605.3 1907.2L606.8 1912.8L608.3 1918.6L609.8 1924.6L611.3 1930.7L612.8 1937.0L614.3 1943.5L615.8 1950.1L617.3 1956.9L618.8 1963.8L620.3 1970.8L621.8 1978.0L623.3 1985.2L624.8 1992.6L626.3 2000.1L627.8 2007.6L629.3 2015.3L630.8 2023.0L632.3 2030.8L633.8 2038.6L635.3 2046.4L636.8 2054.3L638.3 2062.2L639.8 2070.1L641.3 2078.1L642.8 2086.0L644.3 2093.9L645.8 2101.8L647.3 2109.6L648.8 2117.4L650.3 2125.1L651.8 2132.8L653.3 2140.4L654.8 2148.0L656.3 2155.4L657.8 2162.7L659.3 2170.0L660.8 2177.1L662.3 2184.1L663.8 2190.9L665.3 2197.6L666.8 2204.2L668.3 2210.6L669.8 2216.8L671.3 2222.9L672.8 2228.7L674.3 2234.4L675.8 2239.9L677.3 2245.2L678.8 2250.3L680.3 2255.2L681.8 2259.9L683.3 2264.3L684.8 2268.5L686.3 2272.5L687.8 2276.2L689.3 2279.7L690.8 2282.9L692.3 2285.9L693.8 2288.6L695.3 2291.1L696.8 2293.3L698.3 2295.3L699.8 2296.9L701.3 2298.3L702.8 2299.5L704.3 2300.3L705.8 2300.9L707.3 2301.2L708.8 2301.3L710.3 2301.1L711.8 2300.7L713.3 2300.1L714.8 2299.3L716.3 2298.2L717.8 2297.0L719.3 2295.5L720.8 2293.8L722.3 2291.9L723.8 2289.8L725.3 2287.6L726.8 2285.1L728.3 2282.4L729.8 2279.5L731.3 2276.5L732.8 2273.2L734.3 2269.8L735.8 2266.2L737.3 2262.4L738.8 2258.5L740.3 2254.4L741.8 2250.1L743.3 2245.7L744.8 2241.2L746.3 2236.5L747.8 2231.6L749.3 2226.7L750.8 2221.6L752.3 2216.4L753.8 2211.1L755.3 2205.7L756.8 2200.2L758.3 2194.6L759.8 2188.9L761.3 2183.2L762.8 2177.4L764.3 2171.5L765.8 2165.6L767.3 2159.6L768.8 2153.6L770.3 2147.6L771.8 2141.5L773.3 2135.5L774.8 2129.4L776.3 2123.3L777.8 2117.3L779.3 2111.2L780.8 2105.2L782.3 2099.2L783.8 2093.3L785.3 2087.4L786.8 2081.5L788.3 2075.7L789.8 2070.0L791.3 2064.4L792.8 2058.8L794.3 2053.4L795.8 2048.0L797.3 2042.7L798.8 2037.6L800.3 2032.5L801.8 2027.6L803.3 2022.9L804.8 2018.2L806.3 2013.7L807.8 2009.4L809.3 2005.2L810.8 2001.1L812.3 1997.2L813.8 1993.5L815.3 1990.0L816.8 1986.6L818.3 1983.5L819.8 1980.5L821.3 1977.7L822.8 1975.1L824.3 1972.6L825.8 1970.4L827.3 1968.4L828.8 1966.6L830.3 1965.0L831.8 1963.6L833.3 1962.5L834.8 1961.5L836.3 1960.8L837.8 1960.2L839.3 1959.9L840.8 1959.8L842.3 1959.9L843.8 1960.2L845.3 1960.7L846.8 1961.5L848.3 1962.4L849.8 1963.5L851.3 1964.9L852.8 1966.4L854.3 1968.1L855.8 1970.1L857.3 1972.2L858.8 1974.5L860.3 1977.0L861.8 1979.7L863.3 1982.6L864.8 1985.6L866.3 1988.8L867.8 1992.2L869.3 1995.8L870.8 1999.5L872.3 2003.4L873.8 2007.4L875.3 2011.6L876.8 2016.0L878.3 2020.4L879.8 2025.0L881.3 2029.8L882.8 2034.6L884.3 2039.6L885.8 2044.6L887.3 2049.8L888.8 2055.1L890.3 2060.5L891.8 2065.9L893.3 2071.4L894.8 2077.0L896.3 2082.7L897.8 2088.4L899.3 2094.2L900.8 2100.0L902.3 2105.8L903.8 2111.7L905.3 2117.6L906.8 2123.5L908.3 2129.4L909.8 2135.3L911.3 2141.2L912.8 2147.1L914.3 2153.0L915.8 2158.9L917.3 2164.7L918.8 2170.4L920.3 2176.2L921.8 2181.8L923.3 2187.4L924.8 2192.9L926.3 2198.4L927.8 2203.8L929.3 2209.0L930.8 2214.2L932.3 2219.3L933.8 2224.2L935.3 2229.1L936.8 2233.8L938.3 2238.4L939.8 2242.9L941.3 2247.2L942.8 2251.4L944.3 2255.5L945.8 2259.3L947.3 2263.1L948.8 2266.6L950.3 2270.0L951.8 2273.3L953.3 2276.3L954.8 2279.2L956.3 2281.9L957.8 2284.4L959.3 2286.7L960.8 2288.8L962.3 2290.8L963.8 2292.5L965.3 2294.0L966.8 2295.4L968.3 2296.5L969.8 2297.5L971.3 2298.2L972.8 2298.7L974.3 2299.0L975.8 2299.1L977.3 2299.1L978.8 2298.8L980.3 2298.4L981.8 2297.9L983.3 2297.1L984.8 2296.3L986.3 2295.2L987.8 2294.0L989.3 2292.7L990.8 2291.1L992.3 2289.5L993.8 2287.7L995.3 2285.7L996.8 2283.6L998.3 2281.3L999.8 2278.9L1001.3 2276.4L1002.8 2273.7L1004.3 2270.9L1005.8 2268.0L1007.3 2265.0L1008.8 2261.8L1010.3 2258.5L1011.8 2255.1L1013.3 2251.6L1014.8 2248.0L1016.3 2244.3L1017.8 2240.4L1019.3 2236.5L1020.8 2232.6L1022.3 2228.5L1023.8 2224.3L1025.3 2220.1L1026.8 2215.8L1028.3 2211.5L1029.8 2207.1L1031.3 2202.7L1032.8 2198.2L1034.3 2193.7L1035.8 2189.1L1037.3 2184.5L1038.8 2179.9L1040.3 2175.3L1041.8 2170.6L1043.3 2166.0L1044.8 2161.4L1046.3 2156.7L1047.8 2152.1L1049.3 2147.5L1050.8 2142.9L1052.3 2138.4L1053.8 2133.9L1055.3 2129.4L1056.8 2125.0L1058.3 2120.6L1059.8 2116.3L1061.3 2112.0L1062.8 2107.8L1064.3 2103.7L1065.8 2099.7L1067.3 2095.7L1068.8 2091.9L1070.3 2088.1L1071.8 2084.4L1073.3 2080.8L1074.8 2077.4L1076.3 2074.0L1077.8 2070.8L1079.3 2067.7L1080.8 2064.6L1082.3 2061.8L1083.8 2059.0L1085.3 2056.4L1086.8 2053.9L1088.3 2051.6L1089.8 2049.4L1091.3 2047.3L1092.8 2045.4L1094.3 2043.7L1095.8 2042.1L1097.3 2040.6L1098.8 2039.3L1100.3 2038.2L1101.8 2037.2L1103.3 2036.4L1104.8 2035.7L1106.3 2035.2L1107.8 2034.9L1109.3 2034.7L1110.8 2034.7L1112.3 2034.9L1113.8 2035.2L1115.3 2035.6L1116.8 2036.2L1118.3 2037.0L1119.8 2037.9L1121.3 2039.0L1122.8 2040.2L1124.3 2041.6L1125.8 2043.1L1127.3 2044.8L1128.8 2046.6L1130.3 2048.6L1131.8 2050.7L1133.3 2052.9L1134.8 2055.3L1136.3 2057.8L1137.8 2060.4L1139.3 2063.2L1140.8 2066.1L1142.3 2069.1L1143.8 2072.2L1145.3 2075.4L1146.8 2078.8L1148.3 2082.2L1149.8 2085.8L1151.3 2089.4L1152.8 2093.1L1154.3 2096.9L1155.8 2100.8L1157.3 2104.8L1158.8 2108.9L1160.3 2113.0L1161.8 2117.2L1163.3 2121.4L1164.8 2125.7L1166.3 2130.1L1167.8 2134.4L1169.3 2138.9L1170.8 2143.3L1172.3 2147.8L1173.8 2152.3L1175.3 2156.8L1176.8 2161.4L1178.3 2165.9L1179.8 2170.5L1181.3 2175.0L1182.8 2179.5L1184.3 2184.0L1185.8 2188.5L1187.3 2193.0L1188.8 2197.4L1190.3 2201.8L1191.8 2206.1L1193.3 2210.4L1194.8 2214.7L1196.3 2218.9L1197.8 2223.0L1199.3 2227.1L1200.8 2231.1L1202.3 2235.0L1203.8 2238.8L1205.3 2242.6L1206.8 2246.2L1208.3 2249.8L1209.8 2253.2L1211.3 2256.6L1212.8 2259.8L1214.3 2263.0L1215.8 2266.0L1217.3 2268.9L1218.8 2271.7L1220.3 2274.3L1221.8 2276.9L1223.3 2279.3L1224.8 2281.5L1226.3 2283.6L1227.8 2285.6L1229.3 2287.5L1230.8 2289.2L1232.3 2290.7L1233.8 2292.1L1235.3 2293.4L1236.8 2294.5L1238.3 2295.4L1239.8 2296.2L1241.3 2296.9L1242.8 2297.3L1244.3 2297.7L1245.8 2297.8L1247.3 2297.9L1248.8 2297.7L1250.3 2297.5L1251.8 2297.1L1253.3 2296.6L1254.8 2295.9L1256.3 2295.1L1257.8 2294.2L1259.3 2293.1L1260.8 2291.9L1262.3 2290.6L1263.8 2289.2L1265.3 2287.6L1266.8 2285.9L1268.3 2284.1L1269.8 2282.2L1271.3 2280.2L1272.8 2278.0L1274.3 2275.8L1275.8 2273.4L1277.3 2270.9L1278.8 2268.3L1280.3 2265.7L1281.8 2262.9L1283.3 2260.0L1284.8 2257.1L1286.3 2254.0L1287.8 2250.9L1289.3 2247.7L1290.8 2244.5L1292.3 2241.2L1293.8 2237.8L1295.3 2234.3L1296.8 2230.8L1298.3 2227.3L1299.8 2223.7L1301.3 2220.0L1302.8 2216.4L1304.3 2212.6L1305.8 2208.9L1307.3 2205.1L1308.8 2201.4L1310.3 2197.6L1311.8 2193.8L1313.3 2190.0L1314.8 2186.2L1316.3 2182.4L1317.8 2178.6L1319.3 2174.9L1320.8 2171.1L1322.3 2167.4L1323.8 2163.7L1325.3 2160.0L1326.8 2156.4L1328.3 2152.9L1329.8 2149.3L1331.3 2145.9L1332.8 2142.5L1334.3 2139.1L1335.8 2135.8L1337.3 2132.6L1338.8 2129.5L1340.3 2126.4L1341.8 2123.5L1343.3 2120.6L1344.8 2117.8L1346.3 2115.1L1347.8 2112.5L1349.3 2110.0L1350.8 2107.6L1352.3 2105.3L1353.8 2103.1L1355.3 2101.0L1356.8 2099.0L1358.3 2097.2L1359.8 2095.5L1361.3 2093.9L1362.8 2092.4L1364.3 2091.0L1365.8 2089.8L1367.3 2088.7L1368.8 2087.7L1370.3 2086.9L1371.8 2086.2L1373.3 2085.6L1374.8 2085.2L1376.3 2084.9L1377.8 2084.7L1379.3 2084.7L1380.8 2084.8L1382.3 2085.0L1383.8 2085.4L1385.3 2085.9L1386.8 2086.5L1388.3 2087.3L1389.8 2088.2L1391.3 2089.2L1392.8 2090.3L1394.3 2091.6L1395.8 2092.9L1397.3 2094.4L1398.8 2096.1L1400.3 2097.8L1401.8 2099.6L1403.3 2101.6L1404.8 2103.7L1406.3 2105.9L1407.8 2108.2L1409.3 2110.6L1410.8 2113.0L1412.3 2115.6L1413.8 2118.3L1415.3 2121.1L1416.8 2123.9L1418.3 2126.9L1419.8 2129.9L1421.3 2133.0L1422.8 2136.2L1424.3 2139.4L1425.8 2142.7L1427.3 2146.1L1428.8 2149.5L1430.3 2153.0L1431.8 2156.5L1433.3 2160.1L1434.8 2163.7L1436.3 2167.4L1437.8 2171.0L1439.3 2174.7L1440.8 2178.5L1442.3 2182.2L1443.8 2186.0L1445.3 2189.7L1446.8 2193.5L1448.3 2197.3L1449.8 2201.0L1451.3 2204.8L1452.8 2208.5L1454.3 2212.2L1455.8 2215.9L1457.3 2219.6L1458.8 2223.2L1460.3 2226.8L1461.8 2230.4L1463.3 2233.9L1464.8 2237.4L1466.3 2240.8L1467.8 2244.2L1469.3 2247.5L1470.8 2250.7L1472.3 2253.8L1473.8 2256.9L1475.3 2259.9L1476.8 2262.9L1478.3 2265.7L1479.8 2268.5L1481.3 2271.1L1482.8 2273.7L1484.3 2276.2L1485.8 2278.6L1487.3 2280.8L1488.8 2283.0L1490.3 2285.0L1491.8 2287.0L1493.3 2288.8L1494.8 2290.5L1496.3 2292.1L1497.8 2293.6L1499.3 2295.0L1500.8 2296.2L1502.3 2297.3L1503.8 2298.3L1505.3 2299.2L1506.8 2299.9L1508.3 2300.5L1509.8 2301.0L1511.3 2301.3L1512.8 2301.5L1514.3 2301.6L1515.8 2301.6L1517.3 2301.4L1518.8 2301.1L1520.3 2300.7L1521.8 2300.2L1523.3 2299.5L1524.8 2298.8L1526.3 2297.9L1527.8 2296.9L1529.3 2295.9L1530.8 2294.6L1532.3 2293.3L1533.8 2291.9L1535.3 2290.4L1536.8 2288.8L1538.3 2287.0L1539.8 2285.2L1541.3 2283.3L1542.8 2281.2L1544.3 2279.1L1545.8 2276.9L1547.3 2274.6L1548.8 2272.2L1550.3 2269.8L1551.8 2267.2L1553.3 2264.6L1554.8 2261.9L1556.3 2259.2L1557.8 2256.4L1559.3 2253.5L1560.8 2250.6L1562.3 2247.6L1563.8 2244.5L1565.3 2241.5L1566.8 2238.3L1568.3 2235.2L1569.8 2232.0L1571.3 2228.8L1572.8 2225.5L1574.3 2222.3L1575.8 2219.0L1577.3 2215.7L1578.8 2212.4L1580.3 2209.1L1581.8 2205.7L1583.3 2202.4L1584.8 2199.2L1586.3 2195.9L1587.8 2192.6L1589.3 2189.4L1590.8 2186.1L1592.3 2183.0L1593.8 2179.8L1595.3 2176.7L1596.8 2173.6L1598.3 2170.6L1599.8 2167.6L1601.3 2164.7L1602.8 2161.8L1604.3 2159.0L1605.8 2156.3L1607.3 2153.6L1608.8 2151.0L1610.3 2148.4L1611.8 2146.0L1613.3 2143.6L1614.8 2141.3L1616.3 2139.1L1617.8 2137.0L1619.3 2135.0L1620.8 2133.1L1622.3 2131.3L1623.8 2129.5L1625.3 2127.9L1626.8 2126.4L1628.3 2125.0L1629.8 2123.7L1631.3 2122.5L1632.8 2121.4L1634.3 2120.5L1635.8 2119.6L1637.3 2118.9L1638.8 2118.2L1640.3 2117.7L1641.8 2117.4L1643.3 2117.1L1644.8 2116.9L1646.3 2116.9L1647.8 2117.0L1649.3 2117.2L1650.8 2117.5L1652.3 2117.9L1653.8 2118.4L1655.3 2119.0L1656.8 2119.7L1658.3 2120.6L1659.8 2121.5L1661.3 2122.6L1662.8 2123.7L1664.3 2125.0L1665.8 2126.4L1667.3 2127.8L1668.8 2129.4L1670.3 2131.0L1671.8 2132.8L1673.3 2134.6L1674.8 2136.5L1676.3 2138.5L1677.8 2140.6L1679.3 2142.8L1680.8 2145.0L1682.3 2147.4L1683.8 2149.8L1685.3 2152.3L1686.8 2154.8L1688.3 2157.4L1689.8 2160.1L1691.3 2162.8L1692.8 2165.6L1694.3 2168.4L1695.8 2171.3L1697.3 2174.3L1698.8 2177.2L1700.3 2180.3L1701.8 2183.3L1703.3 2186.4L1704.8 2189.5L1706.3 2192.6L1707.8 2195.8L1709.3 2199.0L1710.8 2202.1L1712.3 2205.3L1713.8 2208.5L1715.3 2211.7L1716.8 2214.9L1718.3 2218.1L1719.8 2221.3L1721.3 2224.4L1722.8 2227.6L1724.3 2230.7L1725.8 2233.8L1727.3 2236.9L1728.8 2239.9L1730.3 2242.9L1731.8 2245.9L1733.3 2248.8L1734.8 2251.7L1736.3 2254.5L1737.8 2257.3L1739.3 2260.0L1740.8 2262.7L1742.3 2265.3L1743.8 2267.8L1745.3 2270.2L1746.8 2272.6L1748.3 2274.9L1749.8 2277.2L1751.3 2279.3L1752.8 2281.4L1754.3 2283.4L1755.8 2285.3L1757.3 2287.1L1758.8 2288.8L1760.3 2290.4L1761.8 2291.9L1763.3 2293.4L1764.8 2294.7L1766.3 2295.9L1767.8 2297.1L1769.3 2298.1L1770.8 2299.0L1772.3 2299.8L1773.8 2300.5L1775.3 2301.1L1776.8 2301.6L1778.3 2302.0L1779.8 2302.2L1781.3 2302.4L1782.8 2302.4L1784.3 2302.4L1785.8 2302.2L1787.3 2301.9L1788.8 2301.5L1790.3 2301.0L1791.8 2300.4L1793.3 2299.7L1794.8 2298.8L1796.3 2297.9L1797.8 2296.9L1799.3 2295.7L1800.8 2294.5L1802.3 2293.1L1803.8 2291.7L1805.3 2290.1L1806.8 2288.5L1808.3 2286.7L1809.8 2284.9L1811.3 2283.0L1812.8 2281.0L1814.3 2279.0L1815.8 2276.8L1817.3 2274.6L1818.8 2272.3L1820.3 2269.9L1821.8 2267.5L1823.3 2265.0L1824.8 2262.4L1826.3 2259.8L1827.8 2257.1L1829.3 2254.4L1830.8 2251.6L1832.3 2248.8L1833.8 2246.0L1835.3 2243.1L1836.8 2240.2L1838.3 2237.3L1839.8 2234.3L1841.3 2231.4L1842.8 2228.4L1844.3 2225.4L1845.8 2222.4L1847.3 2219.4L1848.8 2216.4L1850.0 2214.0" stroke-width="7"/>
<path d="M224.3 2178.6L225.8 2164.2L227.3 2149.7L228.8 2135.1L230.3 2120.5L231.8 2105.8L233.3 2091.1L234.8 2076.4L236.3 2061.7L237.8 2047.0L239.3 2032.4L240.8 2017.8L242.3 2003.3L243.8 1988.9L245.3 1974.6L246.8 1960.5L248.3 1946.5L249.8 1932.7L251.3 1919.0L252.8 1905.5L254.3 1892.3L255.8 1879.3L257.3 1866.5L258.8 1854.0L260.3 1841.7L261.8 1829.7L263.3 1818.1L264.8 1806.7L266.3 1795.7L267.8 1785.0L269.3 1774.7L270.8 1764.8L272.3 1755.2L273.8 1746.0L275.3 1737.2L276.8 1728.8L278.3 1720.9L279.8 1713.4L281.3 1706.3L282.8 1699.6L284.3 1693.4L285.8 1687.7L287.3 1682.5L288.8 1677.7L290.3 1673.4L291.8 1669.6L293.3 1666.2L294.8 1663.4L296.3 1661.1L297.8 1659.2L299.3 1657.9L300.8 1657.1L302.3 1656.8L303.8 1656.9L305.3 1657.5L306.8 1658.4L308.3 1659.8L309.8 1661.5L311.3 1663.7L312.8 1666.2L314.3 1669.2L315.8 1672.5L317.3 1676.2L318.8 1680.3L320.3 1684.8L321.8 1689.6L323.3 1694.8L324.8 1700.3L326.3 1706.2L327.8 1712.5L329.3 1719.0L330.8 1725.9L332.3 1733.2L333.8 1740.7L335.3 1748.5L336.8 1756.6L338.3 1765.0L339.8 1773.7L341.3 1782.6L342.8 1791.7L344.3 1801.1L345.8 1810.8L347.3 1820.6L348.8 1830.6L350.3 1840.9L351.8 1851.3L353.3 1861.8L354.8 1872.5L356.3 1883.4L357.8 1894.3L359.3 1905.4L360.8 1916.5L362.3 1927.8L363.8 1939.1L365.3 1950.5L366.8 1961.9L368.3 1973.3L369.8 1984.7L371.3 1996.1L372.8 2007.5L374.3 2018.9L375.8 2030.3L377.3 2041.5L378.8 2052.7L380.3 2063.8L381.8 2074.8L383.3 2085.7L384.8 2096.5L386.3 2107.1L387.8 2117.5L389.3 2127.8L390.8 2137.9L392.3 2147.8L393.8 2157.5L395.3 2167.0L396.8 2176.2L398.3 2185.2L399.8 2194.0L401.3 2202.5L402.8 2210.7L404.3 2218.6L405.8 2226.2L407.3 2233.6L408.8 2240.6L410.3 2247.3L411.8 2253.6L413.3 2259.6L414.8 2265.3L416.3 2270.6L417.8 2275.6L419.3 2280.2L420.8 2284.4L422.3 2288.2L423.8 2291.7L425.3 2294.8L426.8 2297.5L428.3 2299.7L429.8 2301.6L431.3 2303.1L432.8 2304.2L434.3 2304.9L435.8 2305.2L437.3 2305.1L438.8 2304.8L440.3 2304.1L441.8 2303.2L443.3 2302.0L444.8 2300.5L446.3 2298.8L447.8 2296.8L449.3 2294.5L450.8 2291.9L452.3 2289.1L453.8 2286.0L455.3 2282.6L456.8 2279.0L458.3 2275.2L459.8 2271.1L461.3 2266.8L462.8 2262.2L464.3 2257.5L465.8 2252.5L467.3 2247.2L468.8 2241.8L470.3 2236.2L471.8 2230.4L473.3 2224.4L474.8 2218.2L476.3 2211.9L477.8 2205.3L479.3 2198.7L480.8 2191.9L482.3 2184.9L483.8 2177.9L485.3 2170.7L486.8 2163.4L488.3 2156.0L489.8 2148.5L491.3 2140.9L492.8 2133.3L494.3 2125.6L495.8 2117.9L497.3 2110.1L498.8 2102.3L500.3 2094.4L501.8 2086.6L503.3 2078.7L504.8 2070.9L506.3 2063.1L507.8 2055.3L509.3 2047.5L510.8 2039.8L512.3 2032.2L513.8 2024.6L515.3 2017.1L516.8 2009.7L518.3 2002.4L519.8 1995.2L521.3 1988.1L522.8 1981.2L524.3 1974.3L525.8 1967.7L527.3 1961.1L528.8 1954.8L530.3 1948.6L531.8 1942.5L533.3 1936.7L534.8 1931.1L536.3 1925.6L537.8 1920.4L539.3 1915.4L540.8 1910.5L542.3 1906.0L543.8 1901.6L545.3 1897.5L546.8 1893.6L548.3 1890.0L549.8 1886.6L551.3 1883.5L552.8 1880.6L554.3 1878.1L555.8 1875.7L557.3 1873.7L558.8 1871.9L560.3 1870.4L561.8 1869.1L563.3 1868.2L564.8 1867.5L566.3 1867.1L567.8 1867.0L569.3 1867.2L570.8 1867.6L572.3 1868.3L573.8 1869.2L575.3 1870.5L576.8 1871.9L578.3 1873.7L579.8 1875.7L581.3 1877.9L582.8 1880.4L584.3 1883.2L585.8 1886.2L587.3 1889.4L588.8 1892.9L590.3 1896.6L591.8 1900.5L593.3 1904.7L594.8 1909.1L596.3 1913.7L597.8 1918.5L599.3 1923.5L600.8 1928.7L602.3 1934.1L603.8 1939.6L605.3 1945.4L606.8 1951.3L608.3 1957.4L609.8 1963.6L611.3 1970.0L612.8 1976.5L614.3 1983.2L615.8 1990.0L617.3 1996.9L618.8 2003.9L620.3 2011.0L621.8 2018.1L623.3 2025.4L624.8 2032.7L626.3 2040.1L627.8 2047.6L629.3 2055.1L630.8 2062.6L632.3 2070.2L633.8 2077.8L635.3 2085.3L636.8 2092.9L638.3 2100.5L639.8 2108.0L641.3 2115.6L642.8 2123.0L644.3 2130.5L645.8 2137.8L647.3 2145.1L648.8 2152.4L650.3 2159.5L651.8 2166.6L653.3 2173.5L654.8 2180.4L656.3 2187.1L657.8 2193.7L659.3 2200.1L660.8 2206.5L662.3 2212.6L663.8 2218.6L665.3 2224.5L666.8 2230.1L668.3 2235.6L669.8 2240.9L671.3 2246.0L672.8 2251.0L674.3 2255.7L675.8 2260.2L677.3 2264.4L678.8 2268.5L680.3 2272.3L681.8 2275.9L683.3 2279.3L684.8 2282.4L686.3 2285.3L687.8 2287.9L689.3 2290.3L690.8 2292.5L692.3 2294.3L693.8 2296.0L695.3 2297.3L696.8 2298.4L698.3 2299.2L699.8 2299.8L701.3 2300.1L702.8 2300.1L704.3 2300.0L705.8 2299.6L707.3 2299.0L708.8 2298.3L710.3 2297.3L711.8 2296.2L713.3 2294.9L714.8 2293.3L716.3 2291.6L717.8 2289.7L719.3 2287.6L720.8 2285.4L722.3 2282.9L723.8 2280.3L725.3 2277.5L726.8 2274.6L728.3 2271.4L729.8 2268.1L731.3 2264.7L732.8 2261.1L734.3 2257.4L735.8 2253.5L737.3 2249.5L738.8 2245.3L740.3 2241.1L741.8 2236.7L743.3 2232.1L744.8 2227.5L746.3 2222.8L747.8 2217.9L749.3 2213.0L750.8 2208.0L752.3 2202.9L753.8 2197.8L755.3 2192.5L756.8 2187.2L758.3 2181.9L759.8 2176.5L761.3 2171.1L762.8 2165.6L764.3 2160.1L765.8 2154.6L767.3 2149.1L768.8 2143.5L770.3 2138.0L771.8 2132.5L773.3 2127.0L774.8 2121.5L776.3 2116.0L777.8 2110.6L779.3 2105.2L780.8 2099.9L782.3 2094.7L783.8 2089.4L785.3 2084.3L786.8 2079.3L788.3 2074.3L789.8 2069.4L791.3 2064.6L792.8 2059.9L794.3 2055.3L795.8 2050.8L797.3 2046.5L798.8 2042.3L800.3 2038.2L801.8 2034.2L803.3 2030.4L804.8 2026.7L806.3 2023.2L807.8 2019.8L809.3 2016.6L810.8 2013.5L812.3 2010.6L813.8 2007.9L815.3 2005.4L816.8 2003.0L818.3 2000.8L819.8 1998.8L821.3 1996.9L822.8 1995.3L824.3 1993.9L825.8 1992.6L827.3 1991.5L828.8 1990.6L830.3 1990.0L831.8 1989.5L833.3 1989.2L834.8 1989.1L836.3 1989.2L837.8 1989.5L839.3 1990.0L840.8 1990.6L842.3 1991.5L843.8 1992.5L845.3 1993.8L846.8 1995.2L848.3 1996.8L849.8 1998.5L851.3 2000.5L852.8 2002.6L854.3 2004.9L855.8 2007.3L857.3 2010.0L858.8 2012.8L860.3 2015.7L861.8 2018.8L863.3 2022.1L864.8 2025.5L866.3 2029.1L867.8 2032.8L869.3 2036.6L870.8 2040.6L872.3 2044.6L873.8 2048.9L875.3 2053.2L876.8 2057.6L878.3 2062.2L879.8 2066.8L881.3 2071.5L882.8 2076.4L884.3 2081.3L885.8 2086.2L887.3 2091.3L888.8 2096.4L890.3 2101.6L891.8 2106.8L893.3 2112.1L894.8 2117.4L896.3 2122.7L897.8 2128.1L899.3 2133.5L900.8 2138.8L902.3 2144.2L903.8 2149.6L905.3 2155.0L906.8 2160.4L908.3 2165.8L909.8 2171.1L911.3 2176.4L912.8 2181.6L914.3 2186.9L915.8 2192.0L917.3 2197.1L918.8 2202.1L920.3 2207.1L921.8 2212.0L923.3 2216.8L924.8 2221.5L926.3 2226.1L927.8 2230.6L929.3 2235.0L930.8 2239.3L932.3 2243.4L933.8 2247.5L935.3 2251.4L936.8 2255.2L938.3 2258.8L939.8 2262.3L941.3 2265.7L942.8 2268.9L944.3 2272.0L945.8 2274.9L947.3 2277.6L948.8 2280.2L950.3 2282.6L951.8 2284.8L953.3 2286.9L954.8 2288.8L956.3 2290.5L957.8 2292.0L959.3 2293.4L960.8 2294.6L962.3 2295.5L963.8 2296.3L965.3 2296.9L966.8 2297.3L968.3 2297.6L969.8 2297.6L971.3 2297.5L972.8 2297.2L974.3 2296.8L975.8 2296.3L977.3 2295.6L978.8 2294.7L980.3 2293.7L981.8 2292.6L983.3 2291.3L984.8 2289.9L986.3 2288.3L987.8 2286.6L989.3 2284.8L990.8 2282.9L992.3 2280.8L993.8 2278.6L995.3 2276.2L996.8 2273.8L998.3 2271.2L999.8 2268.5L1001.3 2265.7L1002.8 2262.8L1004.3 2259.8L1005.8 2256.7L1007.3 2253.5L1008.8 2250.2L1010.3 2246.8L1011.8 2243.3L1013.3 2239.8L1014.8 2236.2L1016.3 2232.5L1017.8 2228.7L1019.3 2224.9L1020.8 2221.0L1022.3 2217.1L1023.8 2213.1L1025.3 2209.1L1026.8 2205.0L1028.3 2201.0L1029.8 2196.8L1031.3 2192.7L1032.8 2188.6L1034.3 2184.4L1035.8 2180.3L1037.3 2176.1L1038.8 2171.9L1040.3 2167.8L1041.8 2163.7L1043.3 2159.6L1044.8 2155.5L1046.3 2151.4L1047.8 2147.4L1049.3 2143.4L1050.8 2139.5L1052.3 2135.6L1053.8 2131.8L1055.3 2128.1L1056.8 2124.4L1058.3 2120.8L1059.8 2117.2L1061.3 2113.7L1062.8 2110.4L1064.3 2107.1L1065.8 2103.9L1067.3 2100.8L1068.8 2097.8L1070.3 2094.9L1071.8 2092.1L1073.3 2089.4L1074.8 2086.8L1076.3 2084.4L1077.8 2082.0L1079.3 2079.8L1080.8 2077.7L1082.3 2075.8L1083.8 2074.0L1085.3 2072.3L1086.8 2070.7L1088.3 2069.3L1089.8 2068.1L1091.3 2066.9L1092.8 2065.9L1094.3 2065.1L1095.8 2064.4L1097.3 2063.8L1098.8 2063.4L1100.3 2063.2L1101.8 2063.1L1103.3 2063.1L1104.8 2063.3L1106.3 2063.6L1107.8 2064.0L1109.3 2064.6L1110.8 2065.3L1112.3 2066.2L1113.8 2067.2L1115.3 2068.3L1116.8 2069.6L1118.3 2070.9L1119.8 2072.5L1121.3 2074.1L1122.8 2075.9L1124.3 2077.8L1125.8 2079.8L1127.3 2081.9L1128.8 2084.1L1130.3 2086.5L1131.8 2089.0L1133.3 2091.5L1134.8 2094.2L1136.3 2097.0L1137.8 2099.9L1139.3 2102.8L1140.8 2105.9L1142.3 2109.1L1143.8 2112.3L1145.3 2115.6L1146.8 2119.0L1148.3 2122.5L1149.8 2126.0L1151.3 2129.6L1152.8 2133.3L1154.3 2137.0L1155.8 2140.7L1157.3 2144.6L1158.8 2148.4L1160.3 2152.3L1161.8 2156.2L1163.3 2160.2L1164.8 2164.2L1166.3 2168.1L1167.8 2172.2L1169.3 2176.2L1170.8 2180.2L1172.3 2184.2L1173.8 2188.3L1175.3 2192.3L1176.8 2196.3L1178.3 2200.2L1179.8 2204.2L1181.3 2208.1L1182.8 2212.0L1184.3 2215.9L1185.8 2219.7L1187.3 2223.5L1188.8 2227.2L1190.3 2230.9L1191.8 2234.5L1193.3 2238.0L1194.8 2241.5L1196.3 2244.9L1197.8 2248.3L1199.3 2251.5L1200.8 2254.7L1202.3 2257.8L1203.8 2260.8L1205.3 2263.6L1206.8 2266.4L1208.3 2269.1L1209.8 2271.7L1211.3 2274.2L1212.8 2276.6L1214.3 2278.9L1215.8 2281.0L1217.3 2283.1L1218.8 2285.0L1220.3 2286.8L1221.8 2288.4L1223.3 2290.0L1224.8 2291.4L1226.3 2292.7L1227.8 2293.8L1229.3 2294.8L1230.8 2295.7L1232.3 2296.4L1233.8 2297.1L1235.3 2297.5L1236.8 2297.9L1238.3 2298.1L1239.8 2298.1L1241.3 2298.1L1242.8 2297.9L1244.3 2297.6L1245.8 2297.1L1247.3 2296.6L1248.8 2295.9L1250.3 2295.1L1251.8 2294.2L1253.3 2293.2L1254.8 2292.0L1256.3 2290.8L1257.8 2289.4L1259.3 2287.9L1260.8 2286.3L1262.3 2284.6L1263.8 2282.8L1265.3 2280.9L1266.8 2278.9L1268.3 2276.8L1269.8 2274.6L1271.3 2272.3L1272.8 2270.0L1274.3 2267.5L1275.8 2265.0L1277.3 2262.3L1278.8 2259.6L1280.3 2256.9L1281.8 2254.0L1283.3 2251.1L1284.8 2248.1L1286.3 2245.1L1287.8 2242.0L1289.3 2238.9L1290.8 2235.7L1292.3 2232.5L1293.8 2229.2L1295.3 2225.9L1296.8 2222.6L1298.3 2219.2L1299.8 2215.9L1301.3 2212.5L1302.8 2209.1L1304.3 2205.7L1305.8 2202.2L1307.3 2198.8L1308.8 2195.4L1310.3 2192.0L1311.8 2188.6L1313.3 2185.2L1314.8 2181.9L1316.3 2178.6L1317.8 2175.3L1319.3 2172.0L1320.8 2168.8L1322.3 2165.6L1323.8 2162.5L1325.3 2159.4L1326.8 2156.4L1328.3 2153.4L1329.8 2150.5L1331.3 2147.6L1332.8 2144.9L1334.3 2142.2L1335.8 2139.5L1337.3 2137.0L1338.8 2134.5L1340.3 2132.1L1341.8 2129.9L1343.3 2127.7L1344.8 2125.6L1346.3 2123.6L1347.8 2121.7L1349.3 2119.9L1350.8 2118.2L1352.3 2116.6L1353.8 2115.1L1355.3 2113.7L1356.8 2112.5L1358.3 2111.3L1359.8 2110.3L1361.3 2109.4L1362.8 2108.6L1364.3 2107.9L1365.8 2107.4L1367.3 2106.9L1368.8 2106.6L1370.3 2106.4L1371.8 2106.4L1373.3 2106.4L1374.8 2106.6L1376.3 2106.9L1377.8 2107.3L1379.3 2107.8L1380.8 2108.5L1382.3 2109.2L1383.8 2110.1L1385.3 2111.1L1386.8 2112.1L1388.3 2113.4L1389.8 2114.7L1391.3 2116.1L1392.8 2117.6L1394.3 2119.2L1395.8 2121.0L1397.3 2122.8L1398.8 2124.7L1400.3 2126.8L1401.8 2128.9L1403.3 2131.1L1404.8 2133.4L1406.3 2135.8L1407.8 2138.2L1409.3 2140.8L1410.8 2143.4L1412.3 2146.1L1413.8 2148.9L1415.3 2151.7L1416.8 2154.6L1418.3 2157.6L1419.8 2160.6L1421.3 2163.6L1422.8 2166.7L1424.3 2169.9L1425.8 2173.1L1427.3 2176.3L1428.8 2179.6L1430.3 2182.9L1431.8 2186.2L1433.3 2189.6L1434.8 2192.9L1436.3 2196.3L1437.8 2199.7L1439.3 2203.1L1440.8 2206.4L1442.3 2209.8L1443.8 2213.2L1445.3 2216.6L1446.8 2219.9L1448.3 2223.3L1449.8 2226.6L1451.3 2229.9L1452.8 2233.1L1454.3 2236.3L1455.8 2239.5L1457.3 2242.6L1458.8 2245.7L1460.3 2248.8L1461.8 2251.7L1463.3 2254.7L1464.8 2257.5L1466.3 2260.3L1467.8 2263.1L1469.3 2265.7L1470.8 2268.3L1472.3 2270.8L1473.8 2273.2L1475.3 2275.6L1476.8 2277.8L1478.3 2280.0L1479.8 2282.1L1481.3 2284.0L1482.8 2285.9L1484.3 2287.7L1485.8 2289.4L1487.3 2291.0L1488.8 2292.4L1490.3 2293.8L1491.8 2295.1L1493.3 2296.2L1494.8 2297.3L1496.3 2298.2L1497.8 2299.0L1499.3 2299.7L1500.8 2300.3L1502.3 2300.7L1503.8 2301.1L1505.3 2301.3L1506.8 2301.4L1508.3 2301.4L1509.8 2301.3L1511.3 2301.1L1512.8 2300.7L1514.3 2300.3L1515.8 2299.8L1517.3 2299.1L1518.8 2298.4L1520.3 2297.5L1521.8 2296.6L1523.3 2295.5L1524.8 2294.3L1526.3 2293.1L1527.8 2291.7L1529.3 2290.3L1530.8 2288.7L1532.3 2287.1L1533.8 2285.4L1535.3 2283.6L1536.8 2281.7L1538.3 2279.7L1539.8 2277.7L1541.3 2275.5L1542.8 2273.3L1544.3 2271.1L1545.8 2268.7L1547.3 2266.3L1548.8 2263.8L1550.3 2261.3L1551.8 2258.7L1553.3 2256.1L1554.8 2253.4L1556.3 2250.6L1557.8 2247.9L1559.3 2245.0L1560.8 2242.2L1562.3 2239.3L1563.8 2236.4L1565.3 2233.5L1566.8 2230.5L1568.3 2227.5L1569.8 2224.5L1571.3 2221.6L1572.8 2218.6L1574.3 2215.6L1575.8 2212.6L1577.3 2209.6L1578.8 2206.6L1580.3 2203.6L1581.8 2200.7L1583.3 2197.8L1584.8 2194.9L1586.3 2192.0L1587.8 2189.1L1589.3 2186.3L1590.8 2183.6L1592.3 2180.9L1593.8 2178.2L1595.3 2175.6L1596.8 2173.0L1598.3 2170.5L1599.8 2168.1L1601.3 2165.7L1602.8 2163.4L1604.3 2161.1L1605.8 2158.9L1607.3 2156.8L1608.8 2154.8L1610.3 2152.9L1611.8 2151.0L1613.3 2149.3L1614.8 2147.6L1616.3 2146.0L1617.8 2144.5L1619.3 2143.1L1620.8 2141.8L1622.3 2140.5L1623.8 2139.4L1625.3 2138.4L1626.8 2137.5L1628.3 2136.7L1629.8 2136.0L1631.3 2135.4L1632.8 2134.9L1634.3 2134.5L1635.8 2134.2L1637.3 2134.1L1638.8 2134.0L1640.3 2134.0L1641.8 2134.2L1643.3 2134.4L1644.8 2134.8L1646.3 2135.2L1647.8 2135.7L1649.3 2136.4L1650.8 2137.1L1652.3 2138.0L1653.8 2138.9L1655.3 2139.9L1656.8 2141.1L1658.3 2142.3L1659.8 2143.6L1661.3 2145.0L1662.8 2146.5L1664.3 2148.1L1665.8 2149.7L1667.3 2151.5L1668.8 2153.3L1670.3 2155.2L1671.8 2157.2L1673.3 2159.2L1674.8 2161.3L1676.3 2163.5L1677.8 2165.8L1679.3 2168.1L1680.8 2170.5L1682.3 2172.9L1683.8 2175.4L1685.3 2178.0L1686.8 2180.6L1688.3 2183.2L1689.8 2185.9L1691.3 2188.6L1692.8 2191.4L1694.3 2194.2L1695.8 2197.0L1697.3 2199.8L1698.8 2202.7L1700.3 2205.6L1701.8 2208.5L1703.3 2211.4L1704.8 2214.3L1706.3 2217.3L1707.8 2220.2L1709.3 2223.1L1710.8 2226.0L1712.3 2228.9L1713.8 2231.8L1715.3 2234.7L1716.8 2237.6L1718.3 2240.4L1719.8 2243.2L1721.3 2246.0L1722.8 2248.8L1724.3 2251.5L1725.8 2254.1L1727.3 2256.8L1728.8 2259.4L1730.3 2261.9L1731.8 2264.4L1733.3 2266.8L1734.8 2269.2L1736.3 2271.5L1737.8 2273.7L1739.3 2275.9L1740.8 2278.0L1742.3 2280.0L1743.8 2282.0L1745.3 2283.9L1746.8 2285.7L1748.3 2287.4L1749.8 2289.0L1751.3 2290.6L1752.8 2292.1L1754.3 2293.4L1755.8 2294.7L1757.3 2295.9L1758.8 2297.0L1760.3 2298.0L1761.8 2298.9L1763.3 2299.8L1764.8 2300.5L1766.3 2301.1L1767.8 2301.6L1769.3 2302.0L1770.8 2302.3L1772.3 2302.6L1773.8 2302.7L1775.3 2302.7L1776.8 2302.6L1778.3 2302.4L1779.8 2302.2L1781.3 2301.8L1782.8 2301.4L1784.3 2300.9L1785.8 2300.3L1787.3 2299.6L1788.8 2298.8L1790.3 2297.9L1791.8 2297.0L1793.3 2295.9L1794.8 2294.8L1796.3 2293.7L1797.8 2292.4L1799.3 2291.0L1800.8 2289.6L1802.3 2288.1L1803.8 2286.6L1805.3 2285.0L1806.8 2283.3L1808.3 2281.5L1809.8 2279.7L1811.3 2277.9L1812.8 2275.9L1814.3 2274.0L1815.8 2271.9L1817.3 2269.9L1818.8 2267.7L1820.3 2265.6L1821.8 2263.4L1823.3 2261.2L1824.8 2258.9L1826.3 2256.6L1827.8 2254.3L1829.3 2251.9L1830.8 2249.6L1832.3 2247.2L1833.8 2244.8L1835.3 2242.4L1836.8 2240.0L1838.3 2237.6L1839.8 2235.2L1841.3 2232.8L1842.8 2230.4L1844.3 2228.0L1845.8 2225.6L1847.3 2223.3L1848.8 2221.0L1850.0 2219.1" stroke-width="10.5" stroke-dasharray="37 35" stroke-linecap="butt"/>
</g>
<rect x="224.3" y="1444.0" width="1625.70" height="1013.20" fill="none" stroke="#262626" stroke-width="3.8"/>
<path d="M224.3 2457.2V2439.2M224.3 1444.0V1462.0M549.4 2457.2V2439.2M549.4 1444.0V1462.0M874.6 2457.2V2439.2M874.6 1444.0V1462.0M1199.7 2457.2V2439.2M1199.7 1444.0V1462.0M1524.9 2457.2V2439.2M1524.9 1444.0V1462.0M1850.0 2457.2V2439.2M1850.0 1444.0V1462.0M224.3 2457.2H242.3M1850.0 2457.2H1832.0M224.3 2330.5H242.3M1850.0 2330.5H1832.0M224.3 2203.9H242.3M1850.0 2203.9H1832.0M224.3 2077.2H242.3M1850.0 2077.2H1832.0M224.3 1950.6H242.3M1850.0 1950.6H1832.0M224.3 1823.9H242.3M1850.0 1823.9H1832.0M224.3 1697.3H242.3M1850.0 1697.3H1832.0M224.3 1570.7H242.3M1850.0 1570.7H1832.0M224.3 1444.0H242.3M1850.0 1444.0H1832.0" stroke="#262626" stroke-width="3.8" fill="none"/>
<text x="223.3" y="2535.5" text-anchor="middle" class="tk">0</text>
<text x="548.4" y="2535.5" text-anchor="middle" class="tk">0.02</text>
<text x="873.6" y="2535.5" text-anchor="middle" class="tk">0.04</text>
<text x="1198.7" y="2535.5" text-anchor="middle" class="tk">0.06</text>
<text x="1523.9" y="2535.5" text-anchor="middle" class="tk">0.08</text>
<text x="1849.0" y="2535.5" text-anchor="middle" class="tk">0.1</text>
<text x="196.0" y="2476.5" text-anchor="end" class="tk">-1</text>
<text x="196.0" y="2349.8" text-anchor="end" class="tk">-0.5</text>
<text x="196.0" y="2223.2" text-anchor="end" class="tk">0</text>
<text x="196.0" y="2096.6" text-anchor="end" class="tk">0.5</text>
<text x="196.0" y="1969.9" text-anchor="end" class="tk">1</text>
<text x="196.0" y="1843.2" text-anchor="end" class="tk">1.5</text>
<text x="196.0" y="1716.6" text-anchor="end" class="tk">2</text>
<text x="196.0" y="1590.0" text-anchor="end" class="tk">2.5</text>
<text x="196.0" y="1463.3" text-anchor="end" class="tk">3</text>
<g fill="none" stroke="#000" stroke-linejoin="round">
<path d="M225.4 3459.4L226.9 3442.9L228.4 3426.4L229.9 3409.7L231.4 3392.9L232.9 3376.0L234.4 3359.1L235.9 3342.2L237.4 3325.2L238.9 3308.3L240.4 3291.4L241.9 3274.6L243.4 3257.9L244.9 3241.4L246.4 3224.9L247.9 3208.7L249.4 3192.6L250.9 3176.7L252.4 3161.1L253.9 3145.8L255.4 3130.7L256.9 3116.0L258.4 3101.5L259.9 3087.5L261.4 3073.8L262.9 3060.5L264.4 3047.6L265.9 3035.1L267.4 3023.1L268.9 3011.5L270.4 3000.5L271.9 2989.9L273.4 2979.8L274.9 2970.3L276.4 2961.3L277.9 2952.9L279.4 2945.0L280.9 2937.8L282.4 2931.1L283.9 2925.0L285.4 2919.5L286.9 2914.7L288.4 2910.5L289.9 2906.9L291.4 2903.9L292.9 2901.6L294.4 2899.9L295.9 2898.9L297.4 2898.5L298.9 2898.7L300.4 2899.3L301.9 2900.4L303.4 2902.0L304.9 2904.0L306.4 2906.4L307.9 2909.3L309.4 2912.7L310.9 2916.4L312.4 2920.6L313.9 2925.2L315.4 2930.3L316.9 2935.8L318.4 2941.6L319.9 2947.9L321.4 2954.5L322.9 2961.6L324.4 2969.0L325.9 2976.8L327.4 2984.9L328.9 2993.4L330.4 3002.2L331.9 3011.4L333.4 3020.9L334.9 3030.6L336.4 3040.7L337.9 3051.0L339.4 3061.6L340.9 3072.4L342.4 3083.5L343.9 3094.8L345.4 3106.3L346.9 3118.0L348.4 3129.8L349.9 3141.9L351.4 3154.1L352.9 3166.4L354.4 3178.8L355.9 3191.4L357.4 3204.0L358.9 3216.7L360.4 3229.5L361.9 3242.2L363.4 3255.1L364.9 3267.9L366.4 3280.7L367.9 3293.5L369.4 3306.2L370.9 3318.9L372.4 3331.5L373.9 3344.1L375.4 3356.5L376.9 3368.8L378.4 3381.0L379.9 3393.0L381.4 3404.8L382.9 3416.5L384.4 3428.0L385.9 3439.2L387.4 3450.3L388.9 3461.1L390.4 3471.6L391.9 3481.9L393.4 3491.9L394.9 3501.6L396.4 3511.1L397.9 3520.2L399.4 3528.9L400.9 3537.4L402.4 3545.5L403.9 3553.2L405.4 3560.6L406.9 3567.5L408.4 3574.1L409.9 3580.4L411.4 3586.2L412.9 3591.6L414.4 3596.6L415.9 3601.1L417.4 3605.3L418.9 3609.0L420.4 3612.2L421.9 3615.1L423.4 3617.4L424.9 3619.4L426.4 3620.9L427.9 3621.9L429.4 3622.5L430.9 3622.6L432.4 3622.3L433.9 3621.8L435.4 3620.8L436.9 3619.5L438.4 3617.9L439.9 3616.0L441.4 3613.7L442.9 3611.0L444.4 3608.1L445.9 3604.8L447.4 3601.2L448.9 3597.3L450.4 3593.0L451.9 3588.5L453.4 3583.7L454.9 3578.6L456.4 3573.1L457.9 3567.5L459.4 3561.5L460.9 3555.3L462.4 3548.8L463.9 3542.1L465.4 3535.1L466.9 3527.9L468.4 3520.5L469.9 3512.9L471.4 3505.1L472.9 3497.1L474.4 3489.0L475.9 3480.7L477.4 3472.2L478.9 3463.5L480.4 3454.8L481.9 3445.9L483.4 3436.9L484.9 3427.9L486.4 3418.7L487.9 3409.5L489.4 3400.2L490.9 3390.9L492.4 3381.5L493.9 3372.1L495.4 3362.7L496.9 3353.4L498.4 3344.0L499.9 3334.7L501.4 3325.4L502.9 3316.1L504.4 3307.0L505.9 3297.9L507.4 3288.9L508.9 3280.0L510.4 3271.3L511.9 3262.6L513.4 3254.1L514.9 3245.8L516.4 3237.6L517.9 3229.6L519.4 3221.8L520.9 3214.1L522.4 3206.7L523.9 3199.5L525.4 3192.5L526.9 3185.8L528.4 3179.3L529.9 3173.0L531.4 3167.1L532.9 3161.3L534.4 3155.9L535.9 3150.8L537.4 3145.9L538.9 3141.3L540.4 3137.1L541.9 3133.1L543.4 3129.5L544.9 3126.2L546.4 3123.2L547.9 3120.5L549.4 3118.2L550.9 3116.2L552.4 3114.5L553.9 3113.2L555.4 3112.3L556.9 3111.6L558.4 3111.3L559.9 3111.4L561.4 3111.8L562.9 3112.4L564.4 3113.4L565.9 3114.7L567.4 3116.3L568.9 3118.2L570.4 3120.5L571.9 3123.0L573.4 3125.8L574.9 3128.9L576.4 3132.3L577.9 3136.0L579.4 3139.9L580.9 3144.2L582.4 3148.7L583.9 3153.5L585.4 3158.5L586.9 3163.8L588.4 3169.4L589.9 3175.2L591.4 3181.2L592.9 3187.5L594.4 3193.9L595.9 3200.6L597.4 3207.5L598.9 3214.6L600.4 3221.9L601.9 3229.4L603.4 3237.0L604.9 3244.8L606.4 3252.7L607.9 3260.8L609.4 3269.0L610.9 3277.4L612.4 3285.9L613.9 3294.4L615.4 3303.1L616.9 3311.8L618.4 3320.6L619.9 3329.5L621.4 3338.4L622.9 3347.4L624.4 3356.4L625.9 3365.4L627.4 3374.4L628.9 3383.5L630.4 3392.5L631.9 3401.5L633.4 3410.4L634.9 3419.3L636.4 3428.2L637.9 3437.0L639.4 3445.7L640.9 3454.3L642.4 3462.8L643.9 3471.3L645.4 3479.6L646.9 3487.7L648.4 3495.8L649.9 3503.7L651.4 3511.4L652.9 3519.0L654.4 3526.4L655.9 3533.6L657.4 3540.6L658.9 3547.4L660.4 3554.0L661.9 3560.4L663.4 3566.6L664.9 3572.5L666.4 3578.2L667.9 3583.7L669.4 3588.9L670.9 3593.8L672.4 3598.5L673.9 3602.9L675.4 3607.1L676.9 3610.9L678.4 3614.5L679.9 3617.8L681.4 3620.8L682.9 3623.5L684.4 3625.9L685.9 3628.0L687.4 3629.8L688.9 3631.3L690.4 3632.4L691.9 3633.3L693.4 3633.9L694.9 3634.1L696.4 3634.1L697.9 3633.7L699.4 3633.2L700.9 3632.3L702.4 3631.2L703.9 3629.9L705.4 3628.3L706.9 3626.4L708.4 3624.3L709.9 3621.9L711.4 3619.3L712.9 3616.5L714.4 3613.4L715.9 3610.1L717.4 3606.5L718.9 3602.8L720.4 3598.8L721.9 3594.6L723.4 3590.1L724.9 3585.5L726.4 3580.7L727.9 3575.7L729.4 3570.5L730.9 3565.2L732.4 3559.6L733.9 3553.9L735.4 3548.1L736.9 3542.1L738.4 3536.0L739.9 3529.7L741.4 3523.3L742.9 3516.8L744.4 3510.2L745.9 3503.5L747.4 3496.8L748.9 3489.9L750.4 3483.0L751.9 3476.0L753.4 3468.9L754.9 3461.9L756.4 3454.8L757.9 3447.6L759.4 3440.5L760.9 3433.3L762.4 3426.2L763.9 3419.1L765.4 3412.0L766.9 3404.9L768.4 3397.9L769.9 3391.0L771.4 3384.1L772.9 3377.3L774.4 3370.5L775.9 3363.9L777.4 3357.3L778.9 3350.9L780.4 3344.6L781.9 3338.4L783.4 3332.3L784.9 3326.4L786.4 3320.6L787.9 3315.0L789.4 3309.6L790.9 3304.3L792.4 3299.2L793.9 3294.3L795.4 3289.6L796.9 3285.1L798.4 3280.8L799.9 3276.7L801.4 3272.8L802.9 3269.2L804.4 3265.8L805.9 3262.6L807.4 3259.6L808.9 3256.9L810.4 3254.4L811.9 3252.2L813.4 3250.2L814.9 3248.5L816.4 3247.0L817.9 3245.8L819.4 3244.9L820.9 3244.2L822.4 3243.7L823.9 3243.5L825.4 3243.6L826.9 3243.9L828.4 3244.5L829.9 3245.3L831.4 3246.3L832.9 3247.6L834.4 3249.1L835.9 3250.9L837.4 3252.8L838.9 3255.0L840.4 3257.5L841.9 3260.1L843.4 3263.0L844.9 3266.1L846.4 3269.4L847.9 3272.9L849.4 3276.6L850.9 3280.5L852.4 3284.6L853.9 3288.9L855.4 3293.4L856.9 3298.1L858.4 3302.9L859.9 3307.9L861.4 3313.1L862.9 3318.5L864.4 3323.9L865.9 3329.6L867.4 3335.3L868.9 3341.2L870.4 3347.3L871.9 3353.4L873.4 3359.6L874.9 3366.0L876.4 3372.4L877.9 3378.9L879.4 3385.6L880.9 3392.2L882.4 3399.0L883.9 3405.8L885.4 3412.6L886.9 3419.5L888.4 3426.4L889.9 3433.3L891.4 3440.3L892.9 3447.2L894.4 3454.2L895.9 3461.1L897.4 3468.0L898.9 3474.9L900.4 3481.8L901.9 3488.6L903.4 3495.3L904.9 3502.0L906.4 3508.7L907.9 3515.2L909.4 3521.7L910.9 3528.1L912.4 3534.3L913.9 3540.5L915.4 3546.6L916.9 3552.5L918.4 3558.3L919.9 3564.0L921.4 3569.5L922.9 3574.9L924.4 3580.1L925.9 3585.2L927.4 3590.1L928.9 3594.8L930.4 3599.3L931.9 3603.7L933.4 3607.9L934.9 3611.8L936.4 3615.6L937.9 3619.2L939.4 3622.6L940.9 3625.7L942.4 3628.7L943.9 3631.4L945.4 3633.9L946.9 3636.1L948.4 3638.2L949.9 3640.0L951.4 3641.6L952.9 3642.9L954.4 3644.0L955.9 3644.9L957.4 3645.5L958.9 3645.9L960.4 3646.1L961.9 3646.0L963.4 3645.7L964.9 3645.2L966.4 3644.5L967.9 3643.6L969.4 3642.5L970.9 3641.2L972.4 3639.6L973.9 3637.9L975.4 3636.0L976.9 3633.9L978.4 3631.6L979.9 3629.1L981.4 3626.4L982.9 3623.5L984.4 3620.5L985.9 3617.2L987.4 3613.8L988.9 3610.3L990.4 3606.6L991.9 3602.7L993.4 3598.6L994.9 3594.4L996.4 3590.1L997.9 3585.7L999.4 3581.1L1000.9 3576.4L1002.4 3571.5L1003.9 3566.6L1005.4 3561.5L1006.9 3556.4L1008.4 3551.2L1009.9 3545.8L1011.4 3540.4L1012.9 3535.0L1014.4 3529.4L1015.9 3523.8L1017.4 3518.2L1018.9 3512.5L1020.4 3506.8L1021.9 3501.1L1023.4 3495.3L1024.9 3489.5L1026.4 3483.8L1027.9 3478.0L1029.4 3472.2L1030.9 3466.5L1032.4 3460.8L1033.9 3455.1L1035.4 3449.5L1036.9 3443.9L1038.4 3438.3L1039.9 3432.9L1041.4 3427.5L1042.9 3422.1L1044.4 3416.9L1045.9 3411.7L1047.4 3406.7L1048.9 3401.7L1050.4 3396.9L1051.9 3392.2L1053.4 3387.6L1054.9 3383.1L1056.4 3378.8L1057.9 3374.6L1059.4 3370.6L1060.9 3366.7L1062.4 3363.0L1063.9 3359.4L1065.4 3356.0L1066.9 3352.8L1068.4 3349.7L1069.9 3346.9L1071.4 3344.2L1072.9 3341.7L1074.4 3339.4L1075.9 3337.2L1077.4 3335.3L1078.9 3333.6L1080.4 3332.1L1081.9 3330.7L1083.4 3329.6L1084.9 3328.7L1086.4 3328.0L1087.9 3327.5L1089.4 3327.2L1090.9 3327.1L1092.4 3327.3L1093.9 3327.6L1095.4 3328.1L1096.9 3328.8L1098.4 3329.8L1099.9 3330.9L1101.4 3332.2L1102.9 3333.7L1104.4 3335.4L1105.9 3337.3L1107.4 3339.4L1108.9 3341.6L1110.4 3344.1L1111.9 3346.7L1113.4 3349.5L1114.9 3352.5L1116.4 3355.6L1117.9 3358.9L1119.4 3362.4L1120.9 3366.0L1122.4 3369.8L1123.9 3373.7L1125.4 3377.8L1126.9 3382.0L1128.4 3386.4L1129.9 3390.8L1131.4 3395.4L1132.9 3400.1L1134.4 3405.0L1135.9 3409.9L1137.4 3414.9L1138.9 3420.1L1140.4 3425.3L1141.9 3430.6L1143.4 3435.9L1144.9 3441.4L1146.4 3446.9L1147.9 3452.4L1149.4 3458.0L1150.9 3463.7L1152.4 3469.3L1153.9 3475.0L1155.4 3480.8L1156.9 3486.5L1158.4 3492.3L1159.9 3498.0L1161.4 3503.7L1162.9 3509.5L1164.4 3515.2L1165.9 3520.8L1167.4 3526.5L1168.9 3532.1L1170.4 3537.6L1171.9 3543.1L1173.4 3548.6L1174.9 3553.9L1176.4 3559.2L1177.9 3564.4L1179.4 3569.5L1180.9 3574.6L1182.4 3579.5L1183.9 3584.3L1185.4 3589.0L1186.9 3593.6L1188.4 3598.1L1189.9 3602.4L1191.4 3606.6L1192.9 3610.7L1194.4 3614.6L1195.9 3618.4L1197.4 3622.0L1198.9 3625.5L1200.4 3628.8L1201.9 3631.9L1203.4 3634.9L1204.9 3637.7L1206.4 3640.3L1207.9 3642.8L1209.4 3645.0L1210.9 3647.1L1212.4 3649.0L1213.9 3650.7L1215.4 3652.2L1216.9 3653.5L1218.4 3654.6L1219.9 3655.5L1221.4 3656.2L1222.9 3656.7L1224.4 3657.0L1225.9 3657.2L1227.4 3657.1L1228.9 3656.8L1230.4 3656.4L1231.9 3655.8L1233.4 3655.0L1234.9 3654.0L1236.4 3652.8L1237.9 3651.5L1239.4 3650.0L1240.9 3648.3L1242.4 3646.4L1243.9 3644.4L1245.4 3642.2L1246.9 3639.9L1248.4 3637.4L1249.9 3634.7L1251.4 3631.9L1252.9 3628.9L1254.4 3625.8L1255.9 3622.5L1257.4 3619.1L1258.9 3615.6L1260.4 3612.0L1261.9 3608.2L1263.4 3604.3L1264.9 3600.3L1266.4 3596.2L1267.9 3592.0L1269.4 3587.7L1270.9 3583.3L1272.4 3578.8L1273.9 3574.2L1275.4 3569.6L1276.9 3564.8L1278.4 3560.1L1279.9 3555.3L1281.4 3550.4L1282.9 3545.5L1284.4 3540.5L1285.9 3535.6L1287.4 3530.6L1288.9 3525.5L1290.4 3520.5L1291.9 3515.5L1293.4 3510.5L1294.9 3505.5L1296.4 3500.5L1297.9 3495.5L1299.4 3490.6L1300.9 3485.7L1302.4 3480.8L1303.9 3476.0L1305.4 3471.3L1306.9 3466.6L1308.4 3462.0L1309.9 3457.4L1311.4 3452.9L1312.9 3448.6L1314.4 3444.3L1315.9 3440.1L1317.4 3436.0L1318.9 3432.0L1320.4 3428.2L1321.9 3424.4L1323.4 3420.8L1324.9 3417.3L1326.4 3414.0L1327.9 3410.8L1329.4 3407.7L1330.9 3404.8L1332.4 3402.0L1333.9 3399.4L1335.4 3396.9L1336.9 3394.6L1338.4 3392.5L1339.9 3390.5L1341.4 3388.7L1342.9 3387.1L1344.4 3385.6L1345.9 3384.3L1347.4 3383.2L1348.9 3382.3L1350.4 3381.6L1351.9 3381.0L1353.4 3380.6L1354.9 3380.4L1356.4 3380.4L1357.9 3380.5L1359.4 3380.9L1360.9 3381.3L1362.4 3382.0L1363.9 3382.9L1365.4 3383.9L1366.9 3385.0L1368.4 3386.4L1369.9 3387.9L1371.4 3389.6L1372.9 3391.4L1374.4 3393.4L1375.9 3395.5L1377.4 3397.9L1378.9 3400.3L1380.4 3402.9L1381.9 3405.7L1383.4 3408.6L1384.9 3411.6L1386.4 3414.8L1387.9 3418.1L1389.4 3421.5L1390.9 3425.0L1392.4 3428.7L1393.9 3432.5L1395.4 3436.4L1396.9 3440.4L1398.4 3444.5L1399.9 3448.7L1401.4 3452.9L1402.9 3457.3L1404.4 3461.8L1405.9 3466.3L1407.4 3470.9L1408.9 3475.5L1410.4 3480.2L1411.9 3485.0L1413.4 3489.8L1414.9 3494.7L1416.4 3499.6L1417.9 3504.5L1419.4 3509.4L1420.9 3514.4L1422.4 3519.4L1423.9 3524.4L1425.4 3529.3L1426.9 3534.3L1428.4 3539.3L1429.9 3544.2L1431.4 3549.1L1432.9 3554.0L1434.4 3558.9L1435.9 3563.7L1437.4 3568.4L1438.9 3573.1L1440.4 3577.8L1441.9 3582.4L1443.4 3586.9L1444.9 3591.3L1446.4 3595.7L1447.9 3600.0L1449.4 3604.1L1450.9 3608.2L1452.4 3612.2L1453.9 3616.1L1455.4 3619.8L1456.9 3623.5L1458.4 3627.0L1459.9 3630.4L1461.4 3633.7L1462.9 3636.9L1464.4 3639.9L1465.9 3642.8L1467.4 3645.5L1468.9 3648.1L1470.4 3650.5L1471.9 3652.8L1473.4 3654.9L1474.9 3656.9L1476.4 3658.7L1477.9 3660.4L1479.4 3661.9L1480.9 3663.2L1482.4 3664.3L1483.9 3665.3L1485.4 3666.1L1486.9 3666.8L1488.4 3667.3L1489.9 3667.6L1491.4 3667.7L1492.9 3667.6L1494.4 3667.4L1495.9 3667.1L1497.4 3666.5L1498.9 3665.9L1500.4 3665.0L1501.9 3664.0L1503.4 3662.8L1504.9 3661.5L1506.4 3660.0L1507.9 3658.4L1509.4 3656.6L1510.9 3654.6L1512.4 3652.6L1513.9 3650.3L1515.4 3647.9L1516.9 3645.4L1518.4 3642.8L1519.9 3640.0L1521.4 3637.1L1522.9 3634.1L1524.4 3630.9L1525.9 3627.7L1527.4 3624.3L1528.9 3620.8L1530.4 3617.2L1531.9 3613.5L1533.4 3609.8L1534.9 3605.9L1536.4 3601.9L1537.9 3597.9L1539.4 3593.8L1540.9 3589.6L1542.4 3585.4L1543.9 3581.1L1545.4 3576.8L1546.9 3572.4L1548.4 3568.0L1549.9 3563.5L1551.4 3559.0L1552.9 3554.5L1554.4 3550.0L1555.9 3545.4L1557.4 3540.9L1558.9 3536.3L1560.4 3531.8L1561.9 3527.2L1563.4 3522.7L1564.9 3518.2L1566.4 3513.8L1567.9 3509.3L1569.4 3505.0L1570.9 3500.6L1572.4 3496.3L1573.9 3492.1L1575.4 3487.9L1576.9 3483.8L1578.4 3479.8L1579.9 3475.9L1581.4 3472.0L1582.9 3468.2L1584.4 3464.6L1585.9 3461.0L1587.4 3457.5L1588.9 3454.2L1590.4 3450.9L1591.9 3447.8L1593.4 3444.7L1594.9 3441.9L1596.4 3439.1L1597.9 3436.5L1599.4 3434.0L1600.9 3431.6L1602.4 3429.4L1603.9 3427.3L1605.4 3425.4L1606.9 3423.6L1608.4 3422.0L1609.9 3420.5L1611.4 3419.2L1612.9 3418.1L1614.4 3417.1L1615.9 3416.2L1617.4 3415.5L1618.9 3415.0L1620.4 3414.7L1621.9 3414.5L1623.4 3414.5L1624.9 3414.6L1626.4 3414.9L1627.9 3415.4L1629.4 3416.0L1630.9 3416.8L1632.4 3417.7L1633.9 3418.8L1635.4 3420.0L1636.9 3421.4L1638.4 3423.0L1639.9 3424.7L1641.4 3426.5L1642.9 3428.5L1644.4 3430.7L1645.9 3433.0L1647.4 3435.4L1648.9 3437.9L1650.4 3440.6L1651.9 3443.4L1653.4 3446.4L1654.9 3449.4L1656.4 3452.6L1657.9 3455.9L1659.4 3459.3L1660.9 3462.8L1662.4 3466.5L1663.9 3470.2L1665.4 3474.0L1666.9 3477.9L1668.4 3481.8L1669.9 3485.9L1671.4 3490.0L1672.9 3494.2L1674.4 3498.5L1675.9 3502.8L1677.4 3507.1L1678.9 3511.6L1680.4 3516.0L1681.9 3520.5L1683.4 3525.0L1684.9 3529.6L1686.4 3534.1L1687.9 3538.7L1689.4 3543.3L1690.9 3547.9L1692.4 3552.5L1693.9 3557.1L1695.4 3561.7L1696.9 3566.2L1698.4 3570.7L1699.9 3575.2L1701.4 3579.7L1702.9 3584.1L1704.4 3588.5L1705.9 3592.8L1707.4 3597.1L1708.9 3601.3L1710.4 3605.4L1711.9 3609.5L1713.4 3613.4L1714.9 3617.3L1716.4 3621.1L1717.9 3624.9L1719.4 3628.5L1720.9 3632.0L1722.4 3635.4L1723.9 3638.7L1725.4 3641.9L1726.9 3645.0L1728.4 3647.9L1729.9 3650.7L1731.4 3653.4L1732.9 3656.0L1734.4 3658.4L1735.9 3660.7L1737.4 3662.9L1738.9 3664.9L1740.4 3666.8L1741.9 3668.5L1743.4 3670.0L1744.9 3671.4L1746.4 3672.7L1747.9 3673.8L1749.4 3674.8L1750.9 3675.5L1752.4 3676.2L1753.9 3676.6L1755.4 3676.9L1756.9 3677.1L1758.4 3677.1L1759.9 3676.9L1761.4 3676.6L1762.9 3676.1L1764.4 3675.5L1765.9 3674.7L1767.4 3673.7L1768.9 3672.6L1770.4 3671.3L1771.9 3669.9L1773.4 3668.4L1774.9 3666.7L1776.4 3664.8L1777.9 3662.9L1779.4 3660.7L1780.9 3658.5L1782.4 3656.1L1783.9 3653.6L1785.4 3650.9L1786.9 3648.2L1788.4 3645.3L1789.9 3642.3L1791.4 3639.2L1792.9 3636.0L1794.4 3632.7L1795.9 3629.2L1797.4 3625.7L1798.9 3622.2L1800.4 3618.5L1801.9 3614.7L1803.4 3610.9L1804.9 3607.0L1806.4 3603.1L1807.9 3599.1L1809.4 3595.0L1810.9 3590.9L1812.4 3586.8L1813.9 3582.6L1815.4 3578.5L1816.9 3574.2L1818.4 3570.0L1819.9 3565.8L1821.4 3561.5L1822.9 3557.3L1824.4 3553.0L1825.9 3548.8L1827.4 3544.6L1828.9 3540.4L1830.4 3536.3L1831.9 3532.2L1833.4 3528.1L1834.9 3524.1L1836.4 3520.2L1837.9 3516.2L1839.4 3512.4L1840.9 3508.6L1842.4 3504.9L1843.9 3501.3L1845.4 3497.8L1846.9 3494.4L1848.4 3491.0L1849.8 3488.0" stroke-width="5.7"/>
<path d="M225.4 3459.4L226.9 3441.0L228.4 3422.5L229.9 3403.8L231.4 3385.1L232.9 3366.2L234.4 3347.3L235.9 3328.4L237.4 3309.5L238.9 3290.6L240.4 3271.8L241.9 3253.1L243.4 3234.6L244.9 3216.2L246.4 3198.0L247.9 3180.1L249.4 3162.4L250.9 3145.0L252.4 3127.9L253.9 3111.1L255.4 3094.8L256.9 3078.8L258.4 3063.3L259.9 3048.2L261.4 3033.6L262.9 3019.5L264.4 3005.9L265.9 2992.9L267.4 2980.5L268.9 2968.6L270.4 2957.4L271.9 2946.8L273.4 2936.8L274.9 2927.6L276.4 2918.9L277.9 2911.0L279.4 2903.8L280.9 2897.4L282.4 2891.6L283.9 2886.6L285.4 2882.3L286.9 2878.8L288.4 2876.1L289.9 2874.1L291.4 2872.9L292.9 2872.5L294.4 2872.7L295.9 2873.4L297.4 2874.5L298.9 2876.1L300.4 2878.1L301.9 2880.6L303.4 2883.5L304.9 2886.8L306.4 2890.6L307.9 2894.9L309.4 2899.5L310.9 2904.6L312.4 2910.1L313.9 2916.0L315.4 2922.3L316.9 2929.0L318.4 2936.1L319.9 2943.6L321.4 2951.5L322.9 2959.7L324.4 2968.3L325.9 2977.2L327.4 2986.4L328.9 2995.9L330.4 3005.8L331.9 3016.0L333.4 3026.4L334.9 3037.1L336.4 3048.1L337.9 3059.3L339.4 3070.7L340.9 3082.4L342.4 3094.3L343.9 3106.3L345.4 3118.6L346.9 3131.0L348.4 3143.5L349.9 3156.2L351.4 3168.9L352.9 3181.8L354.4 3194.8L355.9 3207.8L357.4 3220.9L358.9 3234.1L360.4 3247.2L361.9 3260.4L363.4 3273.5L364.9 3286.6L366.4 3299.7L367.9 3312.7L369.4 3325.7L370.9 3338.5L372.4 3351.3L373.9 3363.9L375.4 3376.4L376.9 3388.8L378.4 3401.0L379.9 3413.0L381.4 3424.8L382.9 3436.4L384.4 3447.8L385.9 3458.9L387.4 3469.8L388.9 3480.5L390.4 3490.9L391.9 3500.9L393.4 3510.7L394.9 3520.2L396.4 3529.3L397.9 3538.2L399.4 3546.6L400.9 3554.7L402.4 3562.5L403.9 3569.9L405.4 3576.9L406.9 3583.5L408.4 3589.7L409.9 3595.5L411.4 3600.9L412.9 3605.9L414.4 3610.4L415.9 3614.6L417.4 3618.2L418.9 3621.5L420.4 3624.3L421.9 3626.6L423.4 3628.6L424.9 3630.0L426.4 3631.0L427.9 3631.5L429.4 3631.6L430.9 3631.3L432.4 3630.6L433.9 3629.6L435.4 3628.1L436.9 3626.3L438.4 3624.1L439.9 3621.5L441.4 3618.6L442.9 3615.2L444.4 3611.6L445.9 3607.5L447.4 3603.2L448.9 3598.5L450.4 3593.4L451.9 3588.0L453.4 3582.3L454.9 3576.3L456.4 3570.0L457.9 3563.4L459.4 3556.5L460.9 3549.4L462.4 3541.9L463.9 3534.2L465.4 3526.3L466.9 3518.1L468.4 3509.8L469.9 3501.2L471.4 3492.4L472.9 3483.4L474.4 3474.3L475.9 3465.0L477.4 3455.5L478.9 3445.9L480.4 3436.3L481.9 3426.5L483.4 3416.6L484.9 3406.6L486.4 3396.6L487.9 3386.5L489.4 3376.4L490.9 3366.3L492.4 3356.2L493.9 3346.1L495.4 3336.0L496.9 3326.0L498.4 3316.0L499.9 3306.1L501.4 3296.2L502.9 3286.5L504.4 3276.9L505.9 3267.3L507.4 3258.0L508.9 3248.8L510.4 3239.7L511.9 3230.9L513.4 3222.2L514.9 3213.7L516.4 3205.4L517.9 3197.4L519.4 3189.6L520.9 3182.1L522.4 3174.8L523.9 3167.8L525.4 3161.0L526.9 3154.6L528.4 3148.4L529.9 3142.6L531.4 3137.1L532.9 3131.9L534.4 3127.0L535.9 3122.5L537.4 3118.3L538.9 3114.5L540.4 3111.0L541.9 3107.9L543.4 3105.2L544.9 3102.8L546.4 3100.8L547.9 3099.2L549.4 3097.9L550.9 3097.1L552.4 3096.6L553.9 3096.5L555.4 3096.7L556.9 3097.3L558.4 3098.2L559.9 3099.4L561.4 3101.0L562.9 3102.9L564.4 3105.0L565.9 3107.5L567.4 3110.4L568.9 3113.5L570.4 3116.9L571.9 3120.7L573.4 3124.7L574.9 3129.1L576.4 3133.7L577.9 3138.6L579.4 3143.8L580.9 3149.2L582.4 3155.0L583.9 3160.9L585.4 3167.2L586.9 3173.7L588.4 3180.4L589.9 3187.3L591.4 3194.5L592.9 3201.8L594.4 3209.4L595.9 3217.2L597.4 3225.1L598.9 3233.3L600.4 3241.6L601.9 3250.0L603.4 3258.6L604.9 3267.4L606.4 3276.2L607.9 3285.2L609.4 3294.3L610.9 3303.4L612.4 3312.7L613.9 3322.0L615.4 3331.4L616.9 3340.8L618.4 3350.3L619.9 3359.8L621.4 3369.4L622.9 3378.9L624.4 3388.4L625.9 3397.9L627.4 3407.4L628.9 3416.8L630.4 3426.2L631.9 3435.5L633.4 3444.8L634.9 3453.9L636.4 3463.0L637.9 3472.0L639.4 3480.8L640.9 3489.5L642.4 3498.1L643.9 3506.6L645.4 3514.8L646.9 3523.0L648.4 3530.9L649.9 3538.6L651.4 3546.2L652.9 3553.6L654.4 3560.7L655.9 3567.6L657.4 3574.3L658.9 3580.8L660.4 3587.0L661.9 3592.9L663.4 3598.6L664.9 3604.1L666.4 3609.2L667.9 3614.1L669.4 3618.7L670.9 3623.0L672.4 3627.0L673.9 3630.7L675.4 3634.1L676.9 3637.2L678.4 3640.0L679.9 3642.5L681.4 3644.7L682.9 3646.5L684.4 3648.0L685.9 3649.2L687.4 3650.1L688.9 3650.6L690.4 3650.8L691.9 3650.7L693.4 3650.3L694.9 3649.6L696.4 3648.6L697.9 3647.3L699.4 3645.7L700.9 3643.9L702.4 3641.7L703.9 3639.2L705.4 3636.5L706.9 3633.5L708.4 3630.2L709.9 3626.6L711.4 3622.8L712.9 3618.7L714.4 3614.3L715.9 3609.7L717.4 3604.9L718.9 3599.8L720.4 3594.5L721.9 3589.0L723.4 3583.3L724.9 3577.4L726.4 3571.3L727.9 3565.0L729.4 3558.5L730.9 3551.8L732.4 3545.0L733.9 3538.1L735.4 3531.0L736.9 3523.8L738.4 3516.4L739.9 3509.0L741.4 3501.4L742.9 3493.8L744.4 3486.1L745.9 3478.4L747.4 3470.5L748.9 3462.7L750.4 3454.8L751.9 3446.9L753.4 3439.0L754.9 3431.1L756.4 3423.2L757.9 3415.3L759.4 3407.5L760.9 3399.7L762.4 3392.0L763.9 3384.4L765.4 3376.8L766.9 3369.3L768.4 3362.0L769.9 3354.7L771.4 3347.6L772.9 3340.6L774.4 3333.7L775.9 3327.1L777.4 3320.5L778.9 3314.2L780.4 3308.0L781.9 3302.0L783.4 3296.3L784.9 3290.7L786.4 3285.3L787.9 3280.2L789.4 3275.3L790.9 3270.7L792.4 3266.3L793.9 3262.1L795.4 3258.2L796.9 3254.6L798.4 3251.2L799.9 3248.1L801.4 3245.3L802.9 3242.8L804.4 3240.5L805.9 3238.6L807.4 3236.9L808.9 3235.5L810.4 3234.5L811.9 3233.7L813.4 3233.2L814.9 3233.0L816.4 3233.1L817.9 3233.5L819.4 3234.1L820.9 3234.9L822.4 3236.0L823.9 3237.4L825.4 3239.0L826.9 3240.8L828.4 3242.9L829.9 3245.2L831.4 3247.8L832.9 3250.5L834.4 3253.6L835.9 3256.8L837.4 3260.3L838.9 3264.0L840.4 3267.9L841.9 3272.0L843.4 3276.4L844.9 3280.9L846.4 3285.6L847.9 3290.5L849.4 3295.6L850.9 3300.9L852.4 3306.3L853.9 3312.0L855.4 3317.7L856.9 3323.7L858.4 3329.8L859.9 3336.0L861.4 3342.3L862.9 3348.8L864.4 3355.4L865.9 3362.1L867.4 3368.9L868.9 3375.8L870.4 3382.8L871.9 3389.8L873.4 3397.0L874.9 3404.2L876.4 3411.4L877.9 3418.7L879.4 3426.0L880.9 3433.4L882.4 3440.8L883.9 3448.1L885.4 3455.5L886.9 3462.9L888.4 3470.3L889.9 3477.6L891.4 3484.9L892.9 3492.2L894.4 3499.4L895.9 3506.6L897.4 3513.7L898.9 3520.7L900.4 3527.7L901.9 3534.6L903.4 3541.3L904.9 3548.0L906.4 3554.5L907.9 3560.9L909.4 3567.2L910.9 3573.4L912.4 3579.4L913.9 3585.3L915.4 3591.0L916.9 3596.5L918.4 3601.9L919.9 3607.1L921.4 3612.2L922.9 3617.0L924.4 3621.6L925.9 3626.1L927.4 3630.3L928.9 3634.4L930.4 3638.2L931.9 3641.8L933.4 3645.2L934.9 3648.3L936.4 3651.2L937.9 3653.9L939.4 3656.4L940.9 3658.6L942.4 3660.6L943.9 3662.3L945.4 3663.8L946.9 3665.1L948.4 3666.1L949.9 3666.8L951.4 3667.3L952.9 3667.6L954.4 3667.6L955.9 3667.3L957.4 3666.8L958.9 3666.1L960.4 3665.2L961.9 3664.0L963.4 3662.6L964.9 3661.0L966.4 3659.1L967.9 3657.0L969.4 3654.7L970.9 3652.2L972.4 3649.4L973.9 3646.5L975.4 3643.3L976.9 3639.9L978.4 3636.4L979.9 3632.6L981.4 3628.7L982.9 3624.5L984.4 3620.2L985.9 3615.7L987.4 3611.1L988.9 3606.2L990.4 3601.3L991.9 3596.1L993.4 3590.9L994.9 3585.5L996.4 3580.0L997.9 3574.3L999.4 3568.6L1000.9 3562.7L1002.4 3556.7L1003.9 3550.7L1005.4 3544.5L1006.9 3538.3L1008.4 3532.1L1009.9 3525.7L1011.4 3519.3L1012.9 3512.9L1014.4 3506.5L1015.9 3500.0L1017.4 3493.5L1018.9 3487.0L1020.4 3480.5L1021.9 3474.0L1023.4 3467.5L1024.9 3461.1L1026.4 3454.7L1027.9 3448.3L1029.4 3442.0L1030.9 3435.8L1032.4 3429.6L1033.9 3423.5L1035.4 3417.5L1036.9 3411.5L1038.4 3405.7L1039.9 3400.0L1041.4 3394.4L1042.9 3388.9L1044.4 3383.6L1045.9 3378.4L1047.4 3373.3L1048.9 3368.4L1050.4 3363.7L1051.9 3359.1L1053.4 3354.6L1054.9 3350.4L1056.4 3346.3L1057.9 3342.5L1059.4 3338.8L1060.9 3335.3L1062.4 3332.0L1063.9 3328.9L1065.4 3326.1L1066.9 3323.4L1068.4 3321.0L1069.9 3318.7L1071.4 3316.7L1072.9 3315.0L1074.4 3313.4L1075.9 3312.1L1077.4 3311.0L1078.9 3310.2L1080.4 3309.6L1081.9 3309.2L1083.4 3309.0L1084.9 3309.1L1086.4 3309.5L1087.9 3310.0L1089.4 3310.8L1090.9 3311.8L1092.4 3313.0L1093.9 3314.5L1095.4 3316.2L1096.9 3318.1L1098.4 3320.3L1099.9 3322.6L1101.4 3325.2L1102.9 3328.0L1104.4 3331.0L1105.9 3334.2L1107.4 3337.6L1108.9 3341.2L1110.4 3345.0L1111.9 3348.9L1113.4 3353.1L1114.9 3357.4L1116.4 3362.0L1117.9 3366.6L1119.4 3371.5L1120.9 3376.5L1122.4 3381.6L1123.9 3386.9L1125.4 3392.3L1126.9 3397.9L1128.4 3403.6L1129.9 3409.4L1131.4 3415.3L1132.9 3421.3L1134.4 3427.4L1135.9 3433.6L1137.4 3439.9L1138.9 3446.2L1140.4 3452.6L1141.9 3459.1L1143.4 3465.6L1144.9 3472.1L1146.4 3478.7L1147.9 3485.3L1149.4 3491.9L1150.9 3498.6L1152.4 3505.2L1153.9 3511.8L1155.4 3518.4L1156.9 3525.0L1158.4 3531.6L1159.9 3538.1L1161.4 3544.5L1162.9 3550.9L1164.4 3557.3L1165.9 3563.5L1167.4 3569.7L1168.9 3575.8L1170.4 3581.8L1171.9 3587.7L1173.4 3593.5L1174.9 3599.2L1176.4 3604.8L1177.9 3610.2L1179.4 3615.5L1180.9 3620.6L1182.4 3625.6L1183.9 3630.5L1185.4 3635.2L1186.9 3639.7L1188.4 3644.0L1189.9 3648.2L1191.4 3652.2L1192.9 3656.0L1194.4 3659.6L1195.9 3663.0L1197.4 3666.2L1198.9 3669.1L1200.4 3671.9L1201.9 3674.5L1203.4 3676.9L1204.9 3679.0L1206.4 3680.9L1207.9 3682.6L1209.4 3684.1L1210.9 3685.3L1212.4 3686.3L1213.9 3687.1L1215.4 3687.7L1216.9 3688.0L1218.4 3688.1L1219.9 3688.0L1221.4 3687.6L1222.9 3687.1L1224.4 3686.3L1225.9 3685.3L1227.4 3684.1L1228.9 3682.7L1230.4 3681.1L1231.9 3679.3L1233.4 3677.2L1234.9 3675.0L1236.4 3672.6L1237.9 3670.0L1239.4 3667.2L1240.9 3664.2L1242.4 3661.0L1243.9 3657.6L1245.4 3654.1L1246.9 3650.4L1248.4 3646.5L1249.9 3642.5L1251.4 3638.3L1252.9 3634.0L1254.4 3629.5L1255.9 3624.9L1257.4 3620.1L1258.9 3615.2L1260.4 3610.2L1261.9 3605.1L1263.4 3599.9L1264.9 3594.6L1266.4 3589.1L1267.9 3583.6L1269.4 3578.1L1270.9 3572.4L1272.4 3566.7L1273.9 3560.9L1275.4 3555.0L1276.9 3549.2L1278.4 3543.3L1279.9 3537.3L1281.4 3531.4L1282.9 3525.4L1284.4 3519.4L1285.9 3513.4L1287.4 3507.5L1288.9 3501.5L1290.4 3495.6L1291.9 3489.7L1293.4 3483.9L1294.9 3478.1L1296.4 3472.3L1297.9 3466.6L1299.4 3461.0L1300.9 3455.5L1302.4 3450.1L1303.9 3444.7L1305.4 3439.4L1306.9 3434.3L1308.4 3429.3L1309.9 3424.3L1311.4 3419.6L1312.9 3414.9L1314.4 3410.4L1315.9 3406.0L1317.4 3401.8L1318.9 3397.7L1320.4 3393.8L1321.9 3390.0L1323.4 3386.4L1324.9 3383.0L1326.4 3379.8L1327.9 3376.8L1329.4 3373.9L1330.9 3371.2L1332.4 3368.8L1333.9 3366.5L1335.4 3364.4L1336.9 3362.5L1338.4 3360.8L1339.9 3359.4L1341.4 3358.1L1342.9 3357.1L1344.4 3356.3L1345.9 3355.6L1347.4 3355.2L1348.9 3355.0L1350.4 3355.1L1351.9 3355.3L1353.4 3355.8L1354.9 3356.4L1356.4 3357.3L1357.9 3358.5L1359.4 3359.8L1360.9 3361.3L1362.4 3363.1L1363.9 3365.0L1365.4 3367.2L1366.9 3369.6L1368.4 3372.2L1369.9 3374.9L1371.4 3377.9L1372.9 3381.1L1374.4 3384.4L1375.9 3387.9L1377.4 3391.6L1378.9 3395.5L1380.4 3399.5L1381.9 3403.7L1383.4 3408.1L1384.9 3412.6L1386.4 3417.3L1387.9 3422.1L1389.4 3427.0L1390.9 3432.1L1392.4 3437.2L1393.9 3442.5L1395.4 3447.9L1396.9 3453.5L1398.4 3459.1L1399.9 3464.7L1401.4 3470.5L1402.9 3476.4L1404.4 3482.3L1405.9 3488.2L1407.4 3494.2L1408.9 3500.3L1410.4 3506.4L1411.9 3512.5L1413.4 3518.6L1414.9 3524.8L1416.4 3530.9L1417.9 3537.1L1419.4 3543.2L1420.9 3549.3L1422.4 3555.4L1423.9 3561.5L1425.4 3567.5L1426.9 3573.4L1428.4 3579.4L1429.9 3585.2L1431.4 3590.9L1432.9 3596.6L1434.4 3602.2L1435.9 3607.7L1437.4 3613.1L1438.9 3618.4L1440.4 3623.6L1441.9 3628.6L1443.4 3633.6L1444.9 3638.4L1446.4 3643.0L1447.9 3647.5L1449.4 3651.9L1450.9 3656.1L1452.4 3660.1L1453.9 3663.9L1455.4 3667.6L1456.9 3671.1L1458.4 3674.5L1459.9 3677.6L1461.4 3680.6L1462.9 3683.3L1464.4 3685.9L1465.9 3688.2L1467.4 3690.4L1468.9 3692.3L1470.4 3694.1L1471.9 3695.6L1473.4 3696.9L1474.9 3698.0L1476.4 3698.9L1477.9 3699.6L1479.4 3700.0L1480.9 3700.2L1482.4 3700.3L1483.9 3700.1L1485.4 3699.7L1486.9 3699.1L1488.4 3698.3L1489.9 3697.4L1491.4 3696.2L1492.9 3694.9L1494.4 3693.3L1495.9 3691.6L1497.4 3689.7L1498.9 3687.6L1500.4 3685.4L1501.9 3682.9L1503.4 3680.3L1504.9 3677.5L1506.4 3674.6L1507.9 3671.4L1509.4 3668.2L1510.9 3664.7L1512.4 3661.1L1513.9 3657.4L1515.4 3653.5L1516.9 3649.5L1518.4 3645.4L1519.9 3641.1L1521.4 3636.7L1522.9 3632.2L1524.4 3627.6L1525.9 3622.8L1527.4 3618.0L1528.9 3613.1L1530.4 3608.1L1531.9 3603.0L1533.4 3597.8L1534.9 3592.6L1536.4 3587.3L1537.9 3581.9L1539.4 3576.5L1540.9 3571.1L1542.4 3565.6L1543.9 3560.1L1545.4 3554.6L1546.9 3549.0L1548.4 3543.4L1549.9 3537.9L1551.4 3532.3L1552.9 3526.8L1554.4 3521.3L1555.9 3515.8L1557.4 3510.3L1558.9 3504.9L1560.4 3499.5L1561.9 3494.2L1563.4 3488.9L1564.9 3483.7L1566.4 3478.6L1567.9 3473.5L1569.4 3468.5L1570.9 3463.6L1572.4 3458.9L1573.9 3454.2L1575.4 3449.6L1576.9 3445.2L1578.4 3440.8L1579.9 3436.6L1581.4 3432.5L1582.9 3428.6L1584.4 3424.8L1585.9 3421.1L1587.4 3417.6L1588.9 3414.2L1590.4 3411.0L1591.9 3408.0L1593.4 3405.1L1594.9 3402.4L1596.4 3399.8L1597.9 3397.5L1599.4 3395.3L1600.9 3393.3L1602.4 3391.5L1603.9 3389.8L1605.4 3388.4L1606.9 3387.1L1608.4 3386.1L1609.9 3385.2L1611.4 3384.5L1612.9 3384.0L1614.4 3383.7L1615.9 3383.7L1617.4 3383.8L1618.9 3384.1L1620.4 3384.6L1621.9 3385.3L1623.4 3386.2L1624.9 3387.3L1626.4 3388.6L1627.9 3390.1L1629.4 3391.8L1630.9 3393.7L1632.4 3395.8L1633.9 3398.1L1635.4 3400.5L1636.9 3403.2L1638.4 3406.0L1639.9 3409.0L1641.4 3412.2L1642.9 3415.5L1644.4 3419.0L1645.9 3422.7L1647.4 3426.5L1648.9 3430.4L1650.4 3434.5L1651.9 3438.8L1653.4 3443.2L1654.9 3447.7L1656.4 3452.3L1657.9 3457.1L1659.4 3461.9L1660.9 3466.9L1662.4 3472.0L1663.9 3477.2L1665.4 3482.4L1666.9 3487.7L1668.4 3493.2L1669.9 3498.6L1671.4 3504.2L1672.9 3509.8L1674.4 3515.4L1675.9 3521.1L1677.4 3526.8L1678.9 3532.5L1680.4 3538.3L1681.9 3544.1L1683.4 3549.8L1684.9 3555.6L1686.4 3561.4L1687.9 3567.1L1689.4 3572.8L1690.9 3578.5L1692.4 3584.2L1693.9 3589.8L1695.4 3595.4L1696.9 3600.9L1698.4 3606.3L1699.9 3611.6L1701.4 3616.9L1702.9 3622.1L1704.4 3627.2L1705.9 3632.2L1707.4 3637.1L1708.9 3641.9L1710.4 3646.6L1711.9 3651.2L1713.4 3655.6L1714.9 3659.9L1716.4 3664.0L1717.9 3668.0L1719.4 3671.9L1720.9 3675.6L1722.4 3679.2L1723.9 3682.6L1725.4 3685.8L1726.9 3688.8L1728.4 3691.7L1729.9 3694.4L1731.4 3696.9L1732.9 3699.3L1734.4 3701.4L1735.9 3703.4L1737.4 3705.1L1738.9 3706.7L1740.4 3708.1L1741.9 3709.2L1743.4 3710.2L1744.9 3711.0L1746.4 3711.6L1747.9 3711.9L1749.4 3712.1L1750.9 3712.1L1752.4 3711.8L1753.9 3711.4L1755.4 3710.8L1756.9 3709.9L1758.4 3708.9L1759.9 3707.6L1761.4 3706.2L1762.9 3704.6L1764.4 3702.8L1765.9 3700.7L1767.4 3698.5L1768.9 3696.2L1770.4 3693.6L1771.9 3690.9L1773.4 3687.9L1774.9 3684.9L1776.4 3681.6L1777.9 3678.2L1779.4 3674.6L1780.9 3670.9L1782.4 3667.0L1783.9 3663.0L1785.4 3658.9L1786.9 3654.6L1788.4 3650.3L1789.9 3645.7L1791.4 3641.1L1792.9 3636.4L1794.4 3631.6L1795.9 3626.7L1797.4 3621.7L1798.9 3616.6L1800.4 3611.5L1801.9 3606.2L1803.4 3601.0L1804.9 3595.7L1806.4 3590.3L1807.9 3584.9L1809.4 3579.5L1810.9 3574.1L1812.4 3568.6L1813.9 3563.2L1815.4 3557.7L1816.9 3552.3L1818.4 3546.9L1819.9 3541.5L1821.4 3536.1L1822.9 3530.8L1824.4 3525.5L1825.9 3520.3L1827.4 3515.2L1828.9 3510.1L1830.4 3505.1L1831.9 3500.1L1833.4 3495.3L1834.9 3490.6L1836.4 3485.9L1837.9 3481.4L1839.4 3477.0L1840.9 3472.7L1842.4 3468.6L1843.9 3464.5L1845.4 3460.7L1846.9 3456.9L1848.4 3453.3L1849.8 3450.1" stroke-width="7" stroke-dasharray="35 12.5 10 13"/>
<path d="M225.4 3459.4L226.9 3442.9L228.4 3426.2L229.9 3409.4L231.4 3392.6L232.9 3375.6L234.4 3358.6L235.9 3341.6L237.4 3324.6L238.9 3307.6L240.4 3290.6L241.9 3273.7L243.4 3257.0L244.9 3240.3L246.4 3223.8L247.9 3207.5L249.4 3191.4L250.9 3175.5L252.4 3159.8L253.9 3144.5L255.4 3129.4L256.9 3114.6L258.4 3100.2L259.9 3086.1L261.4 3072.4L262.9 3059.1L264.4 3046.3L265.9 3033.9L267.4 3021.9L268.9 3010.4L270.4 2999.4L271.9 2988.9L273.4 2979.0L274.9 2969.6L276.4 2960.7L277.9 2952.4L279.4 2944.7L280.9 2937.6L282.4 2931.1L283.9 2925.2L285.4 2919.9L286.9 2915.3L288.4 2911.3L289.9 2907.9L291.4 2905.2L292.9 2903.1L294.4 2901.7L295.9 2901.0L297.4 2900.8L298.9 2901.2L300.4 2902.1L301.9 2903.4L303.4 2905.2L304.9 2907.4L306.4 2910.1L307.9 2913.3L309.4 2916.9L310.9 2920.9L312.4 2925.4L313.9 2930.3L315.4 2935.6L316.9 2941.4L318.4 2947.5L319.9 2954.1L321.4 2961.1L322.9 2968.4L324.4 2976.1L325.9 2984.2L327.4 2992.7L328.9 3001.5L330.4 3010.6L331.9 3020.1L333.4 3029.8L334.9 3039.9L336.4 3050.2L337.9 3060.8L339.4 3071.7L340.9 3082.8L342.4 3094.2L343.9 3105.8L345.4 3117.5L346.9 3129.5L348.4 3141.6L349.9 3153.9L351.4 3166.3L352.9 3178.9L354.4 3191.5L355.9 3204.2L357.4 3217.1L358.9 3229.9L360.4 3242.9L361.9 3255.8L363.4 3268.7L364.9 3281.7L366.4 3294.6L367.9 3307.5L369.4 3320.3L370.9 3333.0L372.4 3345.7L373.9 3358.2L375.4 3370.6L376.9 3382.9L378.4 3395.1L379.9 3407.0L381.4 3418.8L382.9 3430.4L384.4 3441.7L385.9 3452.8L387.4 3463.7L388.9 3474.3L390.4 3484.7L391.9 3494.8L393.4 3504.5L394.9 3514.0L396.4 3523.1L397.9 3531.9L399.4 3540.4L400.9 3548.5L402.4 3556.2L403.9 3563.6L405.4 3570.5L406.9 3577.1L408.4 3583.3L409.9 3589.0L411.4 3594.4L412.9 3599.3L414.4 3603.8L415.9 3607.8L417.4 3611.4L418.9 3614.6L420.4 3617.3L421.9 3619.5L423.4 3621.3L424.9 3622.6L426.4 3623.5L427.9 3623.9L429.4 3623.9L430.9 3623.5L432.4 3622.8L433.9 3621.7L435.4 3620.3L436.9 3618.6L438.4 3616.5L439.9 3614.2L441.4 3611.5L442.9 3608.5L444.4 3605.1L445.9 3601.5L447.4 3597.5L448.9 3593.3L450.4 3588.7L451.9 3583.9L453.4 3578.8L454.9 3573.4L456.4 3567.7L457.9 3561.8L459.4 3555.6L460.9 3549.2L462.4 3542.5L463.9 3535.7L465.4 3528.6L466.9 3521.3L468.4 3513.8L469.9 3506.1L471.4 3498.2L472.9 3490.2L474.4 3482.0L475.9 3473.7L477.4 3465.2L478.9 3456.7L480.4 3448.0L481.9 3439.2L483.4 3430.3L484.9 3421.4L486.4 3412.4L487.9 3403.4L489.4 3394.3L490.9 3385.2L492.4 3376.1L493.9 3367.0L495.4 3357.9L496.9 3348.8L498.4 3339.7L499.9 3330.8L501.4 3321.8L502.9 3313.0L504.4 3304.2L505.9 3295.6L507.4 3287.0L508.9 3278.6L510.4 3270.3L511.9 3262.2L513.4 3254.2L514.9 3246.4L516.4 3238.8L517.9 3231.3L519.4 3224.1L520.9 3217.0L522.4 3210.2L523.9 3203.6L525.4 3197.2L526.9 3191.1L528.4 3185.3L529.9 3179.7L531.4 3174.4L532.9 3169.3L534.4 3164.6L535.9 3160.1L537.4 3155.9L538.9 3152.0L540.4 3148.5L541.9 3145.2L543.4 3142.3L544.9 3139.7L546.4 3137.4L547.9 3135.4L549.4 3133.8L550.9 3132.5L552.4 3131.5L553.9 3130.9L555.4 3130.6L556.9 3130.6L558.4 3130.9L559.9 3131.6L561.4 3132.5L562.9 3133.7L564.4 3135.2L565.9 3137.0L567.4 3139.1L568.9 3141.5L570.4 3144.2L571.9 3147.1L573.4 3150.3L574.9 3153.8L576.4 3157.6L577.9 3161.6L579.4 3165.9L580.9 3170.4L582.4 3175.2L583.9 3180.2L585.4 3185.5L586.9 3191.0L588.4 3196.8L589.9 3202.7L591.4 3208.9L592.9 3215.2L594.4 3221.8L595.9 3228.5L597.4 3235.5L598.9 3242.6L600.4 3249.8L601.9 3257.3L603.4 3264.8L604.9 3272.5L606.4 3280.4L607.9 3288.3L609.4 3296.4L610.9 3304.6L612.4 3312.8L613.9 3321.2L615.4 3329.6L616.9 3338.1L618.4 3346.6L619.9 3355.2L621.4 3363.8L622.9 3372.4L624.4 3381.0L625.9 3389.7L627.4 3398.3L628.9 3406.9L630.4 3415.5L631.9 3424.0L633.4 3432.5L634.9 3441.0L636.4 3449.3L637.9 3457.6L639.4 3465.8L640.9 3473.9L642.4 3481.9L643.9 3489.8L645.4 3497.5L646.9 3505.1L648.4 3512.6L649.9 3519.9L651.4 3527.0L652.9 3534.0L654.4 3540.8L655.9 3547.4L657.4 3553.8L658.9 3560.0L660.4 3566.1L661.9 3571.8L663.4 3577.4L664.9 3582.7L666.4 3587.8L667.9 3592.7L669.4 3597.3L670.9 3601.6L672.4 3605.7L673.9 3609.6L675.4 3613.1L676.9 3616.4L678.4 3619.4L679.9 3622.2L681.4 3624.6L682.9 3626.8L684.4 3628.7L685.9 3630.3L687.4 3631.6L688.9 3632.6L690.4 3633.3L691.9 3633.7L693.4 3633.8L694.9 3633.6L696.4 3633.2L697.9 3632.5L699.4 3631.5L700.9 3630.3L702.4 3628.8L703.9 3627.0L705.4 3625.0L706.9 3622.7L708.4 3620.2L709.9 3617.4L711.4 3614.4L712.9 3611.2L714.4 3607.7L715.9 3603.9L717.4 3600.0L718.9 3595.8L720.4 3591.4L721.9 3586.8L723.4 3582.0L724.9 3577.0L726.4 3571.8L727.9 3566.5L729.4 3560.9L730.9 3555.2L732.4 3549.3L733.9 3543.3L735.4 3537.2L736.9 3530.9L738.4 3524.5L739.9 3518.0L741.4 3511.4L742.9 3504.6L744.4 3497.8L745.9 3491.0L747.4 3484.0L748.9 3477.0L750.4 3470.0L751.9 3462.9L753.4 3455.8L754.9 3448.7L756.4 3441.5L757.9 3434.4L759.4 3427.3L760.9 3420.2L762.4 3413.2L763.9 3406.1L765.4 3399.2L766.9 3392.3L768.4 3385.5L769.9 3378.8L771.4 3372.1L772.9 3365.6L774.4 3359.2L775.9 3352.9L777.4 3346.7L778.9 3340.7L780.4 3334.8L781.9 3329.0L783.4 3323.5L784.9 3318.1L786.4 3312.9L787.9 3307.8L789.4 3303.0L790.9 3298.4L792.4 3294.0L793.9 3289.7L795.4 3285.8L796.9 3282.0L798.4 3278.5L799.9 3275.2L801.4 3272.1L802.9 3269.3L804.4 3266.7L805.9 3264.4L807.4 3262.3L808.9 3260.5L810.4 3259.0L811.9 3257.7L813.4 3256.7L814.9 3256.0L816.4 3255.5L817.9 3255.3L819.4 3255.3L820.9 3255.6L822.4 3256.1L823.9 3256.8L825.4 3257.7L826.9 3258.8L828.4 3260.2L829.9 3261.7L831.4 3263.5L832.9 3265.5L834.4 3267.6L835.9 3270.0L837.4 3272.6L838.9 3275.4L840.4 3278.3L841.9 3281.5L843.4 3284.9L844.9 3288.4L846.4 3292.1L847.9 3296.0L849.4 3300.1L850.9 3304.3L852.4 3308.7L853.9 3313.2L855.4 3317.9L856.9 3322.8L858.4 3327.8L859.9 3332.9L861.4 3338.1L862.9 3343.5L864.4 3349.0L865.9 3354.6L867.4 3360.3L868.9 3366.2L870.4 3372.1L871.9 3378.1L873.4 3384.2L874.9 3390.3L876.4 3396.5L877.9 3402.8L879.4 3409.1L880.9 3415.5L882.4 3421.9L883.9 3428.4L885.4 3434.9L886.9 3441.3L888.4 3447.8L889.9 3454.3L891.4 3460.8L892.9 3467.3L894.4 3473.8L895.9 3480.2L897.4 3486.6L898.9 3493.0L900.4 3499.3L901.9 3505.6L903.4 3511.8L904.9 3517.9L906.4 3524.0L907.9 3530.0L909.4 3535.9L910.9 3541.7L912.4 3547.4L913.9 3552.9L915.4 3558.4L916.9 3563.8L918.4 3569.0L919.9 3574.1L921.4 3579.0L922.9 3583.8L924.4 3588.5L925.9 3593.0L927.4 3597.4L928.9 3601.6L930.4 3605.6L931.9 3609.4L933.4 3613.1L934.9 3616.6L936.4 3619.9L937.9 3623.0L939.4 3625.9L940.9 3628.7L942.4 3631.2L943.9 3633.5L945.4 3635.6L946.9 3637.6L948.4 3639.3L949.9 3640.8L951.4 3642.1L952.9 3643.1L954.4 3644.0L955.9 3644.6L957.4 3645.1L958.9 3645.3L960.4 3645.3L961.9 3645.1L963.4 3644.7L964.9 3644.0L966.4 3643.2L967.9 3642.2L969.4 3640.9L970.9 3639.5L972.4 3637.9L973.9 3636.0L975.4 3634.0L976.9 3631.8L978.4 3629.3L979.9 3626.8L981.4 3624.0L982.9 3621.0L984.4 3617.9L985.9 3614.6L987.4 3611.1L988.9 3607.5L990.4 3603.7L991.9 3599.8L993.4 3595.7L994.9 3591.5L996.4 3587.1L997.9 3582.7L999.4 3578.1L1000.9 3573.4L1002.4 3568.5L1003.9 3563.6L1005.4 3558.6L1006.9 3553.5L1008.4 3548.3L1009.9 3543.1L1011.4 3537.7L1012.9 3532.4L1014.4 3526.9L1015.9 3521.4L1017.4 3515.9L1018.9 3510.4L1020.4 3504.8L1021.9 3499.2L1023.4 3493.7L1024.9 3488.1L1026.4 3482.5L1027.9 3477.0L1029.4 3471.4L1030.9 3465.9L1032.4 3460.5L1033.9 3455.1L1035.4 3449.7L1036.9 3444.5L1038.4 3439.2L1039.9 3434.1L1041.4 3429.0L1042.9 3424.1L1044.4 3419.2L1045.9 3414.5L1047.4 3409.8L1048.9 3405.3L1050.4 3400.9L1051.9 3396.6L1053.4 3392.5L1054.9 3388.5L1056.4 3384.6L1057.9 3380.9L1059.4 3377.4L1060.9 3374.0L1062.4 3370.8L1063.9 3367.8L1065.4 3364.9L1066.9 3362.2L1068.4 3359.7L1069.9 3357.4L1071.4 3355.3L1072.9 3353.4L1074.4 3351.7L1075.9 3350.1L1077.4 3348.8L1078.9 3347.7L1080.4 3346.8L1081.9 3346.0L1083.4 3345.5L1084.9 3345.2L1086.4 3345.1L1087.9 3345.3L1089.4 3345.6L1090.9 3346.1L1092.4 3346.8L1093.9 3347.8L1095.4 3348.9L1096.9 3350.3L1098.4 3351.8L1099.9 3353.5L1101.4 3355.5L1102.9 3357.6L1104.4 3359.9L1105.9 3362.4L1107.4 3365.1L1108.9 3368.0L1110.4 3371.1L1111.9 3374.3L1113.4 3377.7L1114.9 3381.2L1116.4 3385.0L1117.9 3388.8L1119.4 3392.8L1120.9 3397.0L1122.4 3401.3L1123.9 3405.8L1125.4 3410.3L1126.9 3415.0L1128.4 3419.8L1129.9 3424.7L1131.4 3429.7L1132.9 3434.8L1134.4 3440.0L1135.9 3445.3L1137.4 3450.7L1138.9 3456.1L1140.4 3461.6L1141.9 3467.1L1143.4 3472.7L1144.9 3478.3L1146.4 3484.0L1147.9 3489.7L1149.4 3495.4L1150.9 3501.1L1152.4 3506.8L1153.9 3512.5L1155.4 3518.2L1156.9 3523.9L1158.4 3529.5L1159.9 3535.1L1161.4 3540.7L1162.9 3546.2L1164.4 3551.7L1165.9 3557.0L1167.4 3562.4L1168.9 3567.6L1170.4 3572.8L1171.9 3577.8L1173.4 3582.8L1174.9 3587.7L1176.4 3592.4L1177.9 3597.0L1179.4 3601.6L1180.9 3605.9L1182.4 3610.2L1183.9 3614.3L1185.4 3618.2L1186.9 3622.0L1188.4 3625.7L1189.9 3629.2L1191.4 3632.5L1192.9 3635.6L1194.4 3638.6L1195.9 3641.4L1197.4 3644.0L1198.9 3646.4L1200.4 3648.7L1201.9 3650.7L1203.4 3652.5L1204.9 3654.2L1206.4 3655.7L1207.9 3656.9L1209.4 3657.9L1210.9 3658.8L1212.4 3659.4L1213.9 3659.9L1215.4 3660.1L1216.9 3660.1L1218.4 3660.0L1219.9 3659.7L1221.4 3659.2L1222.9 3658.6L1224.4 3657.8L1225.9 3656.8L1227.4 3655.7L1228.9 3654.4L1230.4 3653.0L1231.9 3651.5L1233.4 3649.7L1234.9 3647.9L1236.4 3645.8L1237.9 3643.7L1239.4 3641.4L1240.9 3638.9L1242.4 3636.3L1243.9 3633.6L1245.4 3630.8L1246.9 3627.8L1248.4 3624.7L1249.9 3621.5L1251.4 3618.2L1252.9 3614.8L1254.4 3611.2L1255.9 3607.6L1257.4 3603.8L1258.9 3600.0L1260.4 3596.1L1261.9 3592.1L1263.4 3588.0L1264.9 3583.8L1266.4 3579.6L1267.9 3575.3L1269.4 3571.0L1270.9 3566.6L1272.4 3562.1L1273.9 3557.6L1275.4 3553.1L1276.9 3548.5L1278.4 3544.0L1279.9 3539.4L1281.4 3534.7L1282.9 3530.1L1284.4 3525.5L1285.9 3520.8L1287.4 3516.2L1288.9 3511.6L1290.4 3507.0L1291.9 3502.5L1293.4 3498.0L1294.9 3493.5L1296.4 3489.0L1297.9 3484.6L1299.4 3480.2L1300.9 3476.0L1302.4 3471.7L1303.9 3467.6L1305.4 3463.5L1306.9 3459.5L1308.4 3455.5L1309.9 3451.7L1311.4 3447.9L1312.9 3444.3L1314.4 3440.8L1315.9 3437.3L1317.4 3434.0L1318.9 3430.8L1320.4 3427.7L1321.9 3424.7L1323.4 3421.8L1324.9 3419.1L1326.4 3416.5L1327.9 3414.1L1329.4 3411.8L1330.9 3409.6L1332.4 3407.6L1333.9 3405.7L1335.4 3403.9L1336.9 3402.4L1338.4 3400.9L1339.9 3399.7L1341.4 3398.5L1342.9 3397.6L1344.4 3396.8L1345.9 3396.1L1347.4 3395.7L1348.9 3395.3L1350.4 3395.2L1351.9 3395.2L1353.4 3395.4L1354.9 3395.7L1356.4 3396.2L1357.9 3396.9L1359.4 3397.8L1360.9 3398.8L1362.4 3400.0L1363.9 3401.4L1365.4 3402.9L1366.9 3404.6L1368.4 3406.4L1369.9 3408.4L1371.4 3410.6L1372.9 3412.9L1374.4 3415.4L1375.9 3418.0L1377.4 3420.8L1378.9 3423.7L1380.4 3426.7L1381.9 3429.8L1383.4 3433.1L1384.9 3436.6L1386.4 3440.1L1387.9 3443.8L1389.4 3447.5L1390.9 3451.4L1392.4 3455.4L1393.9 3459.4L1395.4 3463.6L1396.9 3467.9L1398.4 3472.2L1399.9 3476.6L1401.4 3481.1L1402.9 3485.6L1404.4 3490.2L1405.9 3494.9L1407.4 3499.6L1408.9 3504.4L1410.4 3509.1L1411.9 3514.0L1413.4 3518.8L1414.9 3523.7L1416.4 3528.5L1417.9 3533.4L1419.4 3538.3L1420.9 3543.1L1422.4 3548.0L1423.9 3552.9L1425.4 3557.7L1426.9 3562.5L1428.4 3567.2L1429.9 3571.9L1431.4 3576.6L1432.9 3581.2L1434.4 3585.7L1435.9 3590.2L1437.4 3594.6L1438.9 3599.0L1440.4 3603.2L1441.9 3607.4L1443.4 3611.5L1444.9 3615.5L1446.4 3619.4L1447.9 3623.1L1449.4 3626.8L1450.9 3630.3L1452.4 3633.8L1453.9 3637.1L1455.4 3640.2L1456.9 3643.3L1458.4 3646.2L1459.9 3649.0L1461.4 3651.6L1462.9 3654.1L1464.4 3656.4L1465.9 3658.5L1467.4 3660.6L1468.9 3662.4L1470.4 3664.1L1471.9 3665.7L1473.4 3667.0L1474.9 3668.2L1476.4 3669.3L1477.9 3670.2L1479.4 3670.9L1480.9 3671.4L1482.4 3671.8L1483.9 3671.9L1485.4 3672.0L1486.9 3671.8L1488.4 3671.5L1489.9 3671.0L1491.4 3670.4L1492.9 3669.6L1494.4 3668.6L1495.9 3667.5L1497.4 3666.2L1498.9 3664.8L1500.4 3663.2L1501.9 3661.5L1503.4 3659.6L1504.9 3657.6L1506.4 3655.4L1507.9 3653.1L1509.4 3650.6L1510.9 3648.0L1512.4 3645.3L1513.9 3642.5L1515.4 3639.5L1516.9 3636.4L1518.4 3633.2L1519.9 3629.8L1521.4 3626.4L1522.9 3622.9L1524.4 3619.2L1525.9 3615.5L1527.4 3611.7L1528.9 3607.8L1530.4 3603.8L1531.9 3599.8L1533.4 3595.6L1534.9 3591.5L1536.4 3587.2L1537.9 3582.9L1539.4 3578.6L1540.9 3574.2L1542.4 3569.8L1543.9 3565.4L1545.4 3560.9L1546.9 3556.4L1548.4 3551.9L1549.9 3547.4L1551.4 3542.9L1552.9 3538.5L1554.4 3534.0L1555.9 3529.5L1557.4 3525.1L1558.9 3520.7L1560.4 3516.4L1561.9 3512.1L1563.4 3507.8L1564.9 3503.6L1566.4 3499.4L1567.9 3495.3L1569.4 3491.3L1570.9 3487.4L1572.4 3483.5L1573.9 3479.7L1575.4 3476.1L1576.9 3472.5L1578.4 3469.0L1579.9 3465.6L1581.4 3462.3L1582.9 3459.2L1584.4 3456.1L1585.9 3453.2L1587.4 3450.4L1588.9 3447.8L1590.4 3445.2L1591.9 3442.9L1593.4 3440.6L1594.9 3438.5L1596.4 3436.5L1597.9 3434.7L1599.4 3433.1L1600.9 3431.6L1602.4 3430.2L1603.9 3429.0L1605.4 3428.0L1606.9 3427.1L1608.4 3426.4L1609.9 3425.8L1611.4 3425.4L1612.9 3425.2L1614.4 3425.1L1615.9 3425.2L1617.4 3425.4L1618.9 3425.8L1620.4 3426.4L1621.9 3427.0L1623.4 3427.9L1624.9 3428.8L1626.4 3430.0L1627.9 3431.2L1629.4 3432.6L1630.9 3434.2L1632.4 3435.8L1633.9 3437.6L1635.4 3439.6L1636.9 3441.7L1638.4 3443.9L1639.9 3446.2L1641.4 3448.7L1642.9 3451.3L1644.4 3454.0L1645.9 3456.8L1647.4 3459.7L1648.9 3462.7L1650.4 3465.9L1651.9 3469.1L1653.4 3472.4L1654.9 3475.9L1656.4 3479.4L1657.9 3483.0L1659.4 3486.7L1660.9 3490.4L1662.4 3494.3L1663.9 3498.2L1665.4 3502.1L1666.9 3506.2L1668.4 3510.3L1669.9 3514.4L1671.4 3518.6L1672.9 3522.8L1674.4 3527.0L1675.9 3531.3L1677.4 3535.6L1678.9 3539.9L1680.4 3544.3L1681.9 3548.6L1683.4 3553.0L1684.9 3557.3L1686.4 3561.7L1687.9 3566.0L1689.4 3570.3L1690.9 3574.6L1692.4 3578.9L1693.9 3583.1L1695.4 3587.3L1696.9 3591.5L1698.4 3595.6L1699.9 3599.7L1701.4 3603.7L1702.9 3607.7L1704.4 3611.6L1705.9 3615.4L1707.4 3619.1L1708.9 3622.8L1710.4 3626.4L1711.9 3629.9L1713.4 3633.3L1714.9 3636.7L1716.4 3639.9L1717.9 3643.0L1719.4 3646.0L1720.9 3648.9L1722.4 3651.7L1723.9 3654.4L1725.4 3657.0L1726.9 3659.4L1728.4 3661.8L1729.9 3663.9L1731.4 3666.0L1732.9 3667.9L1734.4 3669.7L1735.9 3671.4L1737.4 3672.9L1738.9 3674.3L1740.4 3675.5L1741.9 3676.6L1743.4 3677.6L1744.9 3678.4L1746.4 3679.0L1747.9 3679.6L1749.4 3679.9L1750.9 3680.1L1752.4 3680.2L1753.9 3680.1L1755.4 3679.9L1756.9 3679.5L1758.4 3679.0L1759.9 3678.4L1761.4 3677.5L1762.9 3676.6L1764.4 3675.5L1765.9 3674.3L1767.4 3672.9L1768.9 3671.4L1770.4 3669.8L1771.9 3668.0L1773.4 3666.1L1774.9 3664.1L1776.4 3662.0L1777.9 3659.7L1779.4 3657.3L1780.9 3654.8L1782.4 3652.2L1783.9 3649.5L1785.4 3646.7L1786.9 3643.7L1788.4 3640.7L1789.9 3637.6L1791.4 3634.4L1792.9 3631.1L1794.4 3627.8L1795.9 3624.4L1797.4 3620.9L1798.9 3617.3L1800.4 3613.7L1801.9 3610.0L1803.4 3606.3L1804.9 3602.5L1806.4 3598.7L1807.9 3594.9L1809.4 3591.0L1810.9 3587.1L1812.4 3583.2L1813.9 3579.3L1815.4 3575.4L1816.9 3571.4L1818.4 3567.5L1819.9 3563.6L1821.4 3559.7L1822.9 3555.8L1824.4 3552.0L1825.9 3548.1L1827.4 3544.4L1828.9 3540.6L1830.4 3536.9L1831.9 3533.3L1833.4 3529.7L1834.9 3526.2L1836.4 3522.7L1837.9 3519.3L1839.4 3516.0L1840.9 3512.8L1842.4 3509.7L1843.9 3506.6L1845.4 3503.7L1846.9 3500.8L1848.4 3498.0L1849.8 3495.6" stroke-width="10" stroke-dasharray="36 34"/>
</g>
<rect x="225.4" y="2834.0" width="1624.40" height="987.40" fill="none" stroke="#262626" stroke-width="3.8"/>
<path d="M225.4 3821.4V3803.4M225.4 2834.0V2852.0M387.8 3821.4V3803.4M387.8 2834.0V2852.0M550.3 3821.4V3803.4M550.3 2834.0V2852.0M712.7 3821.4V3803.4M712.7 2834.0V2852.0M875.2 3821.4V3803.4M875.2 2834.0V2852.0M1037.6 3821.4V3803.4M1037.6 2834.0V2852.0M1200.0 3821.4V3803.4M1200.0 2834.0V2852.0M1362.5 3821.4V3803.4M1362.5 2834.0V2852.0M1524.9 3821.4V3803.4M1524.9 2834.0V2852.0M1687.4 3821.4V3803.4M1687.4 2834.0V2852.0M1849.8 3821.4V3803.4M1849.8 2834.0V2852.0M225.4 3821.4H243.4M1849.8 3821.4H1831.8M225.4 3656.8H243.4M1849.8 3656.8H1831.8M225.4 3492.3H243.4M1849.8 3492.3H1831.8M225.4 3327.7H243.4M1849.8 3327.7H1831.8M225.4 3163.1H243.4M1849.8 3163.1H1831.8M225.4 2998.6H243.4M1849.8 2998.6H1831.8M225.4 2834.0H243.4M1849.8 2834.0H1831.8" stroke="#262626" stroke-width="3.8" fill="none"/>
<text transform="translate(223.9 3895.8) scale(0.94 1)" text-anchor="middle" class="tk">0</text>
<text transform="translate(386.3 3895.8) scale(0.94 1)" text-anchor="middle" class="tk">0.01</text>
<text transform="translate(548.8 3895.8) scale(0.94 1)" text-anchor="middle" class="tk">0.02</text>
<text transform="translate(711.2 3895.8) scale(0.94 1)" text-anchor="middle" class="tk">0.03</text>
<text transform="translate(873.7 3895.8) scale(0.94 1)" text-anchor="middle" class="tk">0.04</text>
<text transform="translate(1036.1 3895.8) scale(0.94 1)" text-anchor="middle" class="tk">0.05</text>
<text transform="translate(1198.5 3895.8) scale(0.94 1)" text-anchor="middle" class="tk">0.06</text>
<text transform="translate(1361.0 3895.8) scale(0.94 1)" text-anchor="middle" class="tk">0.07</text>
<text transform="translate(1523.4 3895.8) scale(0.94 1)" text-anchor="middle" class="tk">0.08</text>
<text transform="translate(1685.9 3895.8) scale(0.94 1)" text-anchor="middle" class="tk">0.09</text>
<text transform="translate(1848.3 3895.8) scale(0.94 1)" text-anchor="middle" class="tk">0.1</text>
<text x="199.5" y="3840.7" text-anchor="end" class="tk">-1</text>
<text x="199.5" y="3676.1" text-anchor="end" class="tk">-0.5</text>
<text x="199.5" y="3511.6" text-anchor="end" class="tk">0</text>
<text x="199.5" y="3347.0" text-anchor="end" class="tk">0.5</text>
<text x="199.5" y="3182.4" text-anchor="end" class="tk">1</text>
<text x="199.5" y="3017.9" text-anchor="end" class="tk">1.5</text>
<text x="199.5" y="2853.3" text-anchor="end" class="tk">2</text>
<text x="1035" y="1220.1" text-anchor="middle" class="lb">Time(s)</text>
<text transform="translate(71.6 564) rotate(-90)" text-anchor="middle" class="lb">Current(pu)</text>
<text x="1035" y="2609.2" text-anchor="middle" class="lb">Time(s)</text>
<text transform="translate(71.6 1952.8) rotate(-90)" text-anchor="middle" class="lb">Current(pu)</text>
<text x="1036.4" y="3970.7" text-anchor="middle" class="lb lc">Time(s)</text>
<text transform="translate(79 3328) rotate(-90)" text-anchor="middle" class="lb lc">Current(pu)</text>
<rect x="1185" y="115" width="606" height="149.7" fill="#fff" stroke="#000" stroke-width="4"/>
<path d="M1202.7 156.2H1341" stroke="#000" stroke-width="7.6"/>
<path d="M1202.7 222.6H1313.2" stroke="#000" stroke-width="11" stroke-dasharray="37.3 35.9"/>
<text transform="translate(1353 173.6) scale(1 0.94)" class="lg">Calculation Values</text>
<text transform="translate(1353 240.3) scale(1 0.94)" class="lg">Simulation Values</text>
<rect x="1185" y="1503.5" width="606" height="149.7" fill="#fff" stroke="#000" stroke-width="4"/>
<path d="M1202.7 1544.7H1341" stroke="#000" stroke-width="7.6"/>
<path d="M1202.7 1611.1H1313.2" stroke="#000" stroke-width="11" stroke-dasharray="37.3 35.9"/>
<text transform="translate(1353 1562.1) scale(1 0.94)" class="lg">Calculation Values</text>
<text transform="translate(1353 1628.8) scale(1 0.94)" class="lg">Simulation Values</text>
<rect x="987.3" y="2890.1" width="806.6" height="205.1" fill="#fff" stroke="#262626" stroke-width="3.6"/>
<path d="M1004 2929.6H1136" stroke="#000" stroke-width="6.8"/>
<path d="M1004 2992.5H1132" stroke="#000" stroke-width="7" stroke-dasharray="35.3 12.7 10 12.7"/>
<path d="M1004 3056H1110" stroke="#000" stroke-width="10" stroke-dasharray="36 34"/>
<text x="1148.5" y="2945.5" class="lg lgc">Calculation Values for 2 WTs</text>
<text x="1148.5" y="3010" class="lg lgc">Calculation Values for 1 WT</text>
<text x="1148.5" y="3073.2" class="lg lgc">Simulation Values</text>
<text transform="translate(330.5 1324.0) scale(0.9074 1)" class="cap">(<tspan font-weight="bold">a</tspan>)</text>
<text transform="translate(449.1 1324.0) scale(1.0527 1)" class="cap">Terminal</text>
<text transform="translate(807.0 1324.0) scale(1.0406 1)" class="cap">voltage</text>
<text transform="translate(1098.4 1324.0) scale(1.1037 1)" class="cap">drops</text>
<text transform="translate(1334.4 1324.0) scale(1.0516 1)" class="cap">to</text>
<text transform="translate(1425.4 1324.0) scale(0.9794 1)" class="cap">0.2</text>
<text transform="translate(1552.8 1324.0) scale(1.1029 1)" class="cap">pu.</text>
<text transform="translate(326.3 2713.5) scale(0.9750 1)" class="cap">(<tspan font-weight="bold">b</tspan>)</text>
<text transform="translate(453.2 2713.5) scale(1.0559 1)" class="cap">Terminal</text>
<text transform="translate(811.0 2713.5) scale(1.0383 1)" class="cap">voltage</text>
<text transform="translate(1101.7 2713.5) scale(1.1037 1)" class="cap">drops</text>
<text transform="translate(1337.8 2713.5) scale(1.0609 1)" class="cap">to</text>
<text transform="translate(1430.4 2713.5) scale(0.9538 1)" class="cap">0.8</text>
<text transform="translate(1556.6 2713.5) scale(1.1029 1)" class="cap">pu.</text>
<text transform="translate(312.5 4074.8) scale(0.9056 1)" class="cap">(<tspan font-weight="bold">c</tspan>)</text>
<text transform="translate(437.6 4074.8) scale(1.0150 1)" class="cap">Terminal</text>
<text transform="translate(780.8 4074.8) scale(1.0516 1)" class="cap">voltage</text>
<text transform="translate(1073.6 4074.8) scale(1.1190 1)" class="cap">drops</text>
<text transform="translate(1310.9 4074.8) scale(1.0516 1)" class="cap">to</text>
<text transform="translate(1403.5 4074.8) scale(0.9466 1)" class="cap">0.68</text>
<text transform="translate(1570.5 4074.8) scale(1.1146 1)" class="cap">pu.</text>
</svg></body></html>
